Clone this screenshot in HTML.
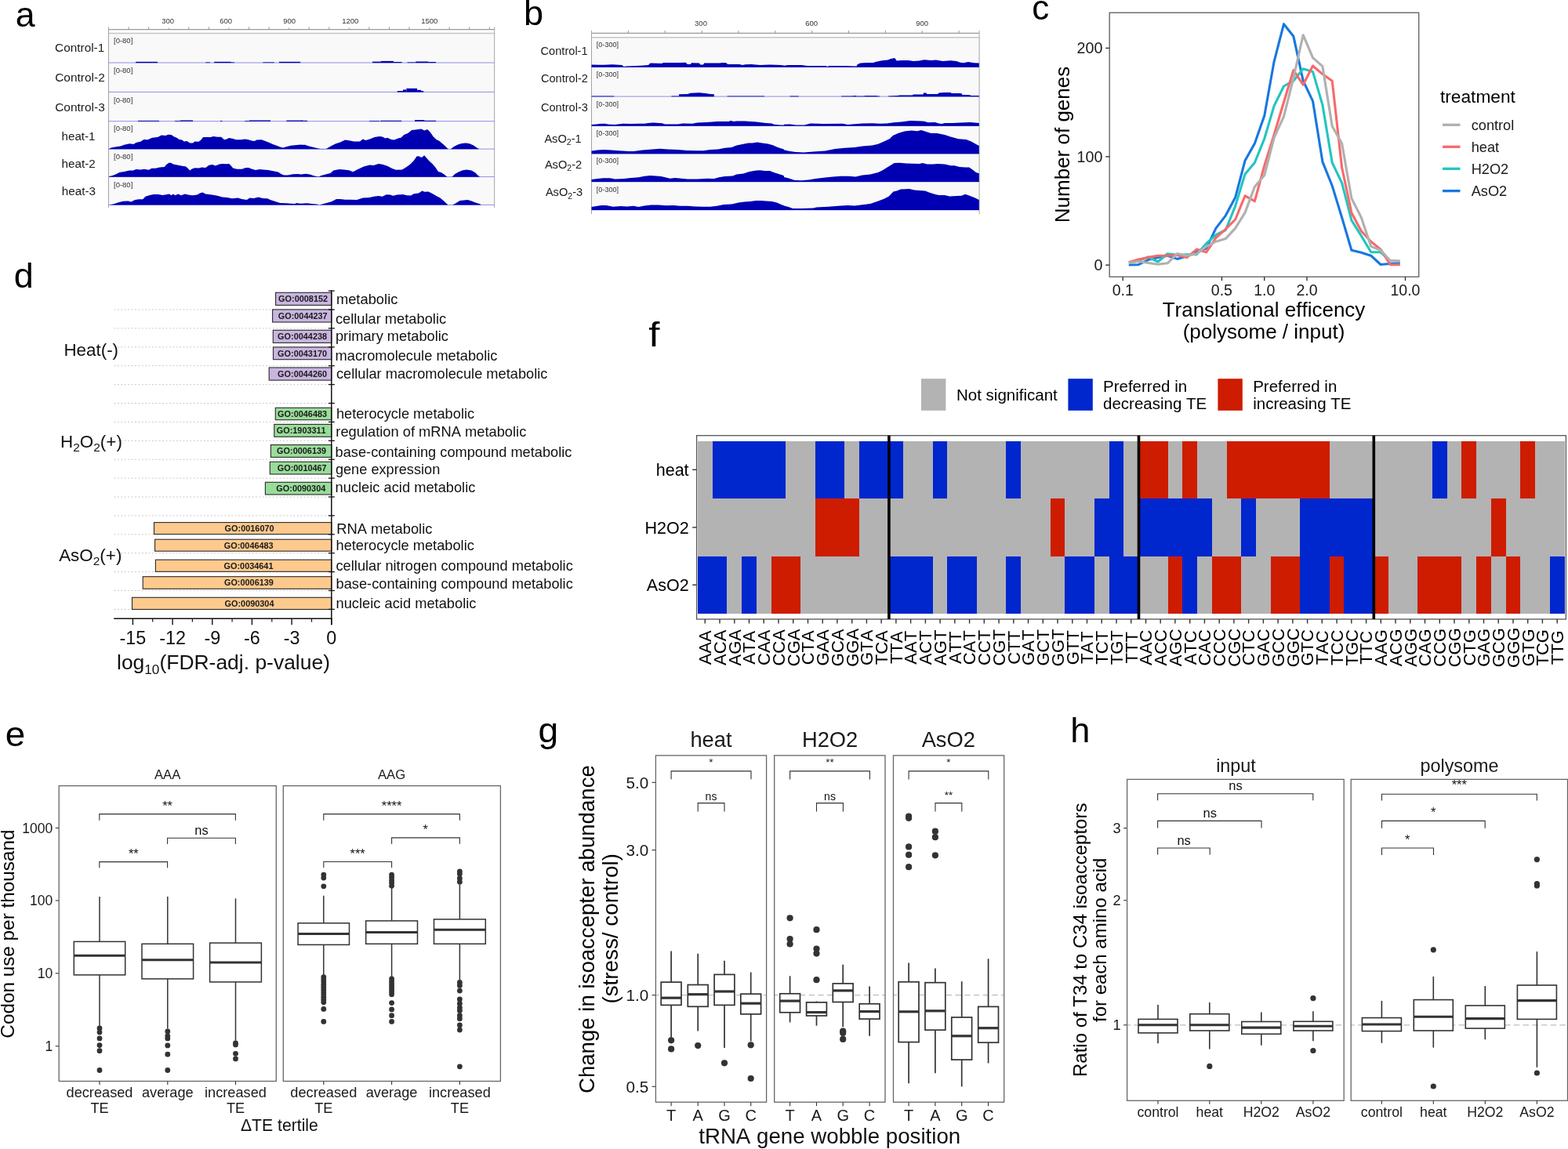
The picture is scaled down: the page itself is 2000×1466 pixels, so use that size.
<!DOCTYPE html>
<html lang="en">
<head>
<meta charset="utf-8">
<title>Figure</title>
<style>
html,body{margin:0;padding:0;background:#fff;}
body{width:2000px;height:1466px;overflow:hidden;}
svg{display:block;font-family:"Liberation Sans",sans-serif;font-kerning:none;}
</style>
</head>
<body>
<svg width="2000" height="1466" viewBox="0 0 2000 1466">
<rect x="0" y="0" width="2000" height="1466" fill="#ffffff"/>
<g id="panel-a">
<text transform="matrix(0.9930 0 0 0.9944 19.65 34.05)" font-size="45" fill="#000">a</text><rect x="138.5" y="42.6" width="492.2" height="218.8" fill="#f9f9f9" stroke="none" stroke-width="1" />
<line x1="138.5" y1="37.7" x2="630.7" y2="37.7" stroke="#999" stroke-width="1.2" />
<line x1="164.1" y1="34.3" x2="164.1" y2="37.7" stroke="#999" stroke-width="1" />
<line x1="189.6" y1="34.3" x2="189.6" y2="37.7" stroke="#999" stroke-width="1" />
<line x1="215.2" y1="35.5" x2="215.2" y2="37.7" stroke="#999" stroke-width="1" />
<line x1="240.8" y1="34.3" x2="240.8" y2="37.7" stroke="#999" stroke-width="1" />
<line x1="266.4" y1="34.3" x2="266.4" y2="37.7" stroke="#999" stroke-width="1" />
<line x1="291.9" y1="35.5" x2="291.9" y2="37.7" stroke="#999" stroke-width="1" />
<line x1="317.5" y1="34.3" x2="317.5" y2="37.7" stroke="#999" stroke-width="1" />
<line x1="343.1" y1="34.3" x2="343.1" y2="37.7" stroke="#999" stroke-width="1" />
<line x1="368.6" y1="35.5" x2="368.6" y2="37.7" stroke="#999" stroke-width="1" />
<line x1="394.2" y1="34.3" x2="394.2" y2="37.7" stroke="#999" stroke-width="1" />
<line x1="419.8" y1="34.3" x2="419.8" y2="37.7" stroke="#999" stroke-width="1" />
<line x1="445.3" y1="35.5" x2="445.3" y2="37.7" stroke="#999" stroke-width="1" />
<line x1="470.9" y1="34.3" x2="470.9" y2="37.7" stroke="#999" stroke-width="1" />
<line x1="496.5" y1="34.3" x2="496.5" y2="37.7" stroke="#999" stroke-width="1" />
<line x1="522" y1="34.3" x2="522" y2="37.7" stroke="#999" stroke-width="1" />
<line x1="547.6" y1="35.5" x2="547.6" y2="37.7" stroke="#999" stroke-width="1" />
<line x1="573.2" y1="34.3" x2="573.2" y2="37.7" stroke="#999" stroke-width="1" />
<line x1="598.8" y1="34.3" x2="598.8" y2="37.7" stroke="#999" stroke-width="1" />
<line x1="624.3" y1="34.3" x2="624.3" y2="37.7" stroke="#999" stroke-width="1" />
<text x="214.2" y="29.5" font-size="9.5" text-anchor="middle" fill="#333" >300</text>
<text x="288.2" y="29.5" font-size="9.5" text-anchor="middle" fill="#333" >600</text>
<text x="369.2" y="29.5" font-size="9.5" text-anchor="middle" fill="#333" >900</text>
<text x="446.8" y="29.5" font-size="9.5" text-anchor="middle" fill="#333" >1200</text>
<text x="547.7" y="29.5" font-size="9.5" text-anchor="middle" fill="#333" >1500</text>
<line x1="138.5" y1="42.6" x2="630.7" y2="42.6" stroke="#c6c6c6" stroke-width="1.5" />
<line x1="138.5" y1="34.3" x2="138.5" y2="265" stroke="#a4a4a4" stroke-width="1" />
<line x1="630.7" y1="34.3" x2="630.7" y2="265" stroke="#a4a4a4" stroke-width="1" />
<line x1="138.5" y1="80" x2="630.7" y2="80" stroke="#9090e4" stroke-width="1" />
<path d="M173.1,80.2L173.1,80L173.1,78.8L201,78.8L201,80L201,80.2Z" fill="#0000b2"/>
<path d="M262.2,80.2L262.2,80L262.2,79.4L267.9,79.4L267.9,80L267.9,80.2Z" fill="#0000b2"/>
<path d="M273.1,80.2L273.1,80L273.1,78.8L294.8,78.8L294.8,80L294.8,80.2Z" fill="#0000b2"/>
<path d="M294.8,80.2L294.8,80L294.8,79.4L299.1,79.4L299.1,80L299.1,80.2Z" fill="#0000b2"/>
<path d="M335.4,80.2L335.4,80L335.4,79.4L349.8,79.4L349.8,80L349.8,80.2Z" fill="#0000b2"/>
<path d="M356,80.2L356,80L356,78.8L383.2,78.8L383.2,80L383.2,80.2Z" fill="#0000b2"/>
<path d="M475,80.2L475,80L475,78.6L485.9,78.6L485.9,80L485.9,80.2Z" fill="#0000b2"/>
<path d="M485.9,80.2L485.9,80L485.9,77.9L502.1,77.9L502.1,80L502.1,80.2Z" fill="#0000b2"/>
<path d="M502.1,80.2L502.1,80L502.1,79L512.5,79L512.5,80L512.5,80.2Z" fill="#0000b2"/>
<path d="M519.6,80.2L519.6,80L519.6,79.4L529.6,79.4L529.6,80L529.6,80.2Z" fill="#0000b2"/>
<path d="M530,80.2L530,80L530,78.5L546.5,78.5L546.5,80L546.5,80.2Z" fill="#0000b2"/>
<path d="M546.5,80.2L546.5,80L546.5,79L555.9,79L555.9,80L555.9,80.2Z" fill="#0000b2"/>
<text x="145" y="54.8" font-size="9.5" text-anchor="start" fill="#333" >[0-80]</text>
<text x="101.7" y="66.4" font-size="15.3" text-anchor="middle" fill="#1a1a1a" textLength="63.2" lengthAdjust="spacingAndGlyphs">Control-1</text>
<line x1="138.5" y1="117.4" x2="630.7" y2="117.4" stroke="#9090e4" stroke-width="1" />
<path d="M506.8,117.6L506.8,117.2L506.8,116L514,116L514,117.2L514,117.6Z" fill="#0000b2"/>
<path d="M514,117.6L514,117.2L514,114.4L518.4,114.4L518.4,117.2L518.4,117.6Z" fill="#0000b2"/>
<path d="M518.4,117.6L518.4,117.2L518.4,112.8L532.1,112.8L532.1,117.2L532.1,117.6Z" fill="#0000b2"/>
<path d="M532.1,117.6L532.1,117.2L532.1,114.8L537.1,114.8L537.1,117.2L537.1,117.6Z" fill="#0000b2"/>
<path d="M537.1,117.6L537.1,117.2L537.1,116L540.2,116L540.2,117.2L540.2,117.6Z" fill="#0000b2"/>
<text x="145" y="92.9" font-size="9.5" text-anchor="start" fill="#333" >[0-80]</text>
<text x="102" y="103.7" font-size="15.3" text-anchor="middle" fill="#1a1a1a" textLength="63.6" lengthAdjust="spacingAndGlyphs">Control-2</text>
<line x1="138.5" y1="154.7" x2="630.7" y2="154.7" stroke="#9090e4" stroke-width="1" />
<path d="M176,154.9L176,154.8L176,153.9L202.9,153.9L202.9,154.8L202.9,154.9Z" fill="#0000b2"/>
<path d="M223.1,154.9L223.1,154.8L223.1,154.1L229.8,154.1L229.8,154.8L229.8,154.9Z" fill="#0000b2"/>
<path d="M229.8,154.9L229.8,154.8L229.8,153.5L246,153.5L246,154.8L246,154.9Z" fill="#0000b2"/>
<path d="M281,154.9L281,154.8L281,154L283.5,154L283.5,154.8L283.5,154.9Z" fill="#0000b2"/>
<path d="M312.2,154.9L312.2,154.8L312.2,154.1L317.9,154.1L317.9,154.8L317.9,154.9Z" fill="#0000b2"/>
<path d="M317.9,154.9L317.9,154.8L317.9,153.5L345,153.5L345,154.8L345,154.9Z" fill="#0000b2"/>
<path d="M365.4,154.9L365.4,154.8L365.4,153.6L386,153.6L386,154.8L386,154.9Z" fill="#0000b2"/>
<path d="M384,154.9L384,154.8L384,153.8L392.1,153.8L392.1,154.8L392.1,154.9Z" fill="#0000b2"/>
<path d="M471.1,154.9L471.1,154.8L471.1,154.1L484,154.1L484,154.8L484,154.9Z" fill="#0000b2"/>
<path d="M485.2,154.9L485.2,154.8L485.2,153.8L512.1,153.8L512.1,154.8L512.1,154.9Z" fill="#0000b2"/>
<path d="M529,154.9L529,154.8L529,153.1L541.5,153.1L541.5,154.8L541.5,154.9Z" fill="#0000b2"/>
<path d="M541.5,154.9L541.5,154.8L541.5,153.8L556.2,153.8L556.2,154.8L556.2,154.9Z" fill="#0000b2"/>
<text x="145" y="131" font-size="9.5" text-anchor="start" fill="#333" >[0-80]</text>
<text x="102" y="141.6" font-size="15.3" text-anchor="middle" fill="#1a1a1a" textLength="63.6" lengthAdjust="spacingAndGlyphs">Control-3</text>
<line x1="138.5" y1="190.1" x2="630.7" y2="190.1" stroke="#9090e4" stroke-width="1" />
<path d="M139.1,190.3L139.1,190.1L141.6,188.6L148.5,187.2L153.5,186.6L158.5,184.8L165.4,183.2L170.4,183.9L173.5,182L179.1,180.8L183.5,178L188.5,178.2L194.1,175.8L201,174.9L206,172.4L211,173L214.8,171.8L218.5,172L222.2,174.5L226,176.1L228.5,178L232.2,178.6L234.8,180.5L238.5,180.1L242.2,182.4L246,182.4L248.5,180.5L253.5,180.8L256.6,178.2L259.1,175.1L263.5,174.9L268.5,175.1L272.2,174.1L277.2,174.8L282.2,174.8L286,178.2L289.1,177.6L292.2,176.1L297.2,177L301,178.2L307.2,178.2L312.2,177.4L316,178L321,179.5L324.8,179.9L327.2,178.6L333.5,178.2L338.5,180.1L343.5,182L348.5,184.2L353.5,186L357.2,187.6L361,188.5L366,187L371,185.8L378.5,185.1L384,184.6L384,184.8L389,184.8L394,186.4L400.2,188L406.5,189.5L409,190.1L415.9,189.9L421.5,186.8L427.8,183.5L434,181.4L440.2,178.6L445.2,179.2L451.5,180.5L459,180.5L462.8,177.6L466.5,178.9L471.5,177.6L477.8,174.9L484,173.9L487.8,174.5L491.5,176.4L494,175.8L499,178L502.8,178.5L507.8,176.4L511.5,175.8L515.2,172L520.2,170.1L525.2,166L530.2,165.5L537.1,164.5L541.5,166.4L545.2,165.1L549,168.9L552.8,174.5L556.5,178L560.2,179.8L565.2,183.9L569,187.6L571.5,190.1L571.5,190.3Z" fill="#0000b2"/>
<path d="M575.2,190.3L575.2,190.1L579,187L584,184.5L589,182.9L594,182.4L599,183.2L604,185.5L607.8,188.2L610.9,190.1L610.9,190.3Z" fill="#0000b2"/>
<text x="145" y="167" font-size="9.5" text-anchor="start" fill="#333" >[0-80]</text>
<text x="100" y="179" font-size="15.3" text-anchor="middle" fill="#1a1a1a" textLength="42.8" lengthAdjust="spacingAndGlyphs">heat-1</text>
<line x1="138.5" y1="225.6" x2="630.7" y2="225.6" stroke="#9090e4" stroke-width="1" />
<path d="M139.1,225.8L139.1,225.1L143.5,223.9L148.5,222L152.2,220.1L158.5,218.9L164.8,217.4L169.8,217.6L173.5,216L179.8,216.4L183.5,215.8L189.8,216.8L193.5,214.8L198.5,214.8L203.5,213.5L209.8,213L212.2,210.1L216,207.6L218.5,208L221,209.5L226,210.5L232.2,211.8L237.2,212.6L239.8,215.1L242.2,217.6L244.8,215.5L248.5,214.2L253.5,214.5L257.2,213.6L262.2,213.9L266.6,210.8L271,210.1L274.8,211.4L279.8,209.5L283.5,208.9L288.5,209.2L292.2,208.9L294.8,211.4L297.2,214.5L302.2,215.8L308.5,215.8L313.5,213.9L317.2,214.1L321,215.4L326,217L331,216L336,216.4L342.2,217L348.5,218.2L354.8,219.5L358.5,222L362.2,223.5L367.2,223.5L373.5,222.2L379.8,222L384,222.5L384,222.6L390.2,221.8L395.2,222.6L400.2,224.2L406.5,225.5L409,224.2L415.2,222.4L421.5,221L425.2,217.6L432.8,216L439,216.4L445.2,217.2L450.2,219.2L456.5,216L464,212.4L471.5,210.4L476.5,211.1L482.8,208.9L487.8,209.8L494,211.8L500.2,215.1L505.2,216.8L512.8,216.4L517.8,213.6L522.8,210.1L527.8,205.1L531.5,199.5L534,199.2L537.8,201L541.2,198.2L544,201.4L547.8,205.8L551.5,208.9L555.2,213.2L559,218.9L562.8,220.1L566.5,222.6L570.2,225.5L570.2,225.8Z" fill="#0000b2"/>
<path d="M576.5,225.8L576.5,225.8L580.2,222L585.2,219.2L590.2,217.2L595.2,216.6L601.5,217.4L606.5,220.5L609,223.2L612.1,225.8L612.1,225.8Z" fill="#0000b2"/>
<text x="145" y="203.2" font-size="9.5" text-anchor="start" fill="#333" >[0-80]</text>
<text x="100.2" y="213.8" font-size="15.3" text-anchor="middle" fill="#1a1a1a" textLength="43.2" lengthAdjust="spacingAndGlyphs">heat-2</text>
<line x1="138.5" y1="261.4" x2="630.7" y2="261.4" stroke="#9090e4" stroke-width="1" />
<path d="M139.1,261.6L139.1,261.4L146,260.1L151,258.2L157.2,256.8L163.5,256.4L167.2,257.4L172.2,255.1L177.2,254.2L182.2,254.2L185.4,250.8L191,248.9L196,247.9L202.2,248L207.2,248.9L212.2,248.2L216,247.6L218.5,249.2L221,247.6L223.5,249.2L227.2,247.6L231,249.2L236,247.6L239.8,248.5L244.8,249.2L248.5,248.9L252.2,248.2L254.8,246.4L258.5,245.5L262.2,247.6L268.5,248.2L273.5,248.9L278.5,250.1L283.5,251.4L289.8,252L296,253.2L303.5,252.4L308.5,253.9L314.8,255.1L318.5,252.6L323.5,253L329.8,251.4L334.8,253L341,253.2L344.8,255.1L351,257L357.2,258.9L364.8,259.2L371,259.8L376,260.1L378.5,258.9L382.2,259.8L384,259.6L384,259.8L391.5,259.2L397.8,260.1L404,260.5L407.1,261.4L410.9,260.5L416.5,258.9L422.8,257.2L429,254.1L434,253.9L440.2,254.8L446.5,254.8L455.2,254.9L462.8,252.4L471.5,252L476.5,250.8L482.8,250.1L487.8,250.8L492.8,248.2L497.8,248.5L501.5,249.8L506.5,248.6L514,248L519,249.2L524,249.5L527.8,247.2L534,246.4L538.4,243.6L541.5,244.8L546.5,244.5L551.5,247L556.5,250.1L561.5,252.6L566.5,256.8L571.5,261.4L571.5,261.6Z" fill="#0000b2"/>
<path d="M577.1,261.6L577.1,261.4L581.5,259.2L586.5,256L591.5,255.5L596.5,255.1L601.5,256.4L606.5,258.5L612.8,260.5L613.4,261.4L613.4,261.6Z" fill="#0000b2"/>
<text x="145" y="238.8" font-size="9.5" text-anchor="start" fill="#333" >[0-80]</text>
<text x="100.4" y="248.6" font-size="15.3" text-anchor="middle" fill="#1a1a1a" textLength="43.2" lengthAdjust="spacingAndGlyphs">heat-3</text>
</g>
<g id="panel-b">
<text transform="matrix(1.0000 0 0 0.9911 668.08 32.30)" font-size="45" fill="#000">b</text><rect x="754.5" y="47.7" width="494.6" height="220.2" fill="#f9f9f9" stroke="none" stroke-width="1" />
<line x1="754.5" y1="42.3" x2="1249.1" y2="42.3" stroke="#999" stroke-width="1.2" />
<line x1="801.4" y1="38.9" x2="801.4" y2="42.3" stroke="#999" stroke-width="1" />
<line x1="848.2" y1="38.9" x2="848.2" y2="42.3" stroke="#999" stroke-width="1" />
<line x1="895.1" y1="38.9" x2="895.1" y2="42.3" stroke="#999" stroke-width="1" />
<line x1="941.9" y1="38.9" x2="941.9" y2="42.3" stroke="#999" stroke-width="1" />
<line x1="988.8" y1="38.9" x2="988.8" y2="42.3" stroke="#999" stroke-width="1" />
<line x1="1035.7" y1="38.9" x2="1035.7" y2="42.3" stroke="#999" stroke-width="1" />
<line x1="1082.5" y1="38.9" x2="1082.5" y2="42.3" stroke="#999" stroke-width="1" />
<line x1="1129.4" y1="38.9" x2="1129.4" y2="42.3" stroke="#999" stroke-width="1" />
<line x1="1176.2" y1="38.9" x2="1176.2" y2="42.3" stroke="#999" stroke-width="1" />
<line x1="1223.1" y1="38.9" x2="1223.1" y2="42.3" stroke="#999" stroke-width="1" />
<text x="894" y="33.2" font-size="9.5" text-anchor="middle" fill="#333" >300</text>
<text x="1035.2" y="33.2" font-size="9.5" text-anchor="middle" fill="#333" >600</text>
<text x="1176.2" y="33.2" font-size="9.5" text-anchor="middle" fill="#333" >900</text>
<line x1="754.5" y1="47.7" x2="1249.1" y2="47.7" stroke="#c6c6c6" stroke-width="1.5" />
<line x1="754.5" y1="38.9" x2="754.5" y2="273.2" stroke="#a4a4a4" stroke-width="1" />
<line x1="1249.1" y1="38.9" x2="1249.1" y2="273.2" stroke="#a4a4a4" stroke-width="1" />
<line x1="754.5" y1="85.6" x2="1249.1" y2="85.6" stroke="#9090e4" stroke-width="1" />
<path d="M754.5,85.8L754.5,82.5L770.8,82.8L780.8,82.2L793.2,83.1L795.8,85L798.2,84.4L817,83.8L827,83.1L829.5,80.6L844.5,80.9L845.8,80L867,80L874.5,79.8L877,81.9L880.8,81.9L882,80.2L892,80.6L893.2,82.5L897,82.5L898.2,80.6L918.2,80.6L920.8,80L926.4,80.2L928.2,81.9L943.2,81.9L947,83.1L950.8,82.2L958.2,81.9L969.5,83.1L982,82.5L995.8,83.1L1000,83.6L1000,83.8L1005,83.1L1022.5,83.1L1030,84L1053.8,84L1055,85L1057.5,84.1L1077.5,84.1L1092.5,84.4L1093.8,81.9L1097.5,80.6L1106.2,80L1113.8,80L1117.5,78.8L1125,77.2L1132.5,76.5L1136.2,75L1141.2,74.1L1143.8,77.5L1150,77.1L1158.8,76.9L1165,77.9L1172.5,77.5L1178.8,76.2L1187.5,76.9L1193.8,76.5L1202.5,78.1L1212.5,77.2L1220,77.9L1225,79.8L1228.8,80.2L1235,79.1L1242.5,80.2L1248.8,80.6L1248.8,85.8Z" fill="#0000b2"/>
<text x="760.8" y="60" font-size="9.1" text-anchor="start" fill="#333" >[0-300]</text>
<text x="719.6" y="69.6" font-size="14.6" text-anchor="middle" fill="#1a1a1a" >Control-1</text>
<line x1="754.5" y1="123.1" x2="1249.1" y2="123.1" stroke="#9090e4" stroke-width="1" />
<path d="M754.5,123.3L754.5,123.1L754.5,122.5L783.2,122.5L783.2,123.1L783.2,123.3Z" fill="#0000b2"/>
<path d="M856.4,123.3L856.4,123.1L856.4,122.5L866,122.5L866,123.1L866,123.3Z" fill="#0000b2"/>
<path d="M927.6,123.3L927.6,123.1L927.6,122.5L975.1,122.5L975.1,123.1L975.1,123.3Z" fill="#0000b2"/>
<path d="M866,123.3L866,123.1L866,120.2L877,120L880.8,118.8L892,118.2L899.5,119.1L905.8,120L910.8,120.2L911,123.1L911,123.3Z" fill="#0000b2"/>
<path d="M1007.5,123.3L1007.5,123.1L1007.5,122.5L1018.8,122.5L1018.8,123.1L1018.8,123.3Z" fill="#0000b2"/>
<path d="M1073.1,123.3L1073.1,123.1L1073.1,122.5L1087.5,122.5L1087.5,123.1L1087.5,123.3Z" fill="#0000b2"/>
<path d="M1087.5,123.3L1087.5,123.1L1087.5,122.1L1092.5,122.1L1092.5,123.1L1092.5,123.3Z" fill="#0000b2"/>
<path d="M1092.5,123.3L1092.5,123.1L1092.5,122.6L1102.5,122.6L1102.5,123.1L1102.5,123.3Z" fill="#0000b2"/>
<path d="M1102.5,123.3L1102.5,123.1L1102.5,122.1L1118.8,122.1L1118.8,123.1L1118.8,123.3Z" fill="#0000b2"/>
<path d="M1118.8,123.3L1118.8,123.1L1118.8,122.5L1121.9,122.5L1121.9,123.1L1121.9,123.3Z" fill="#0000b2"/>
<path d="M1133.1,123.3L1133.1,122.5L1145,122.1L1147.5,121.5L1163.8,121.5L1165,120.6L1177.5,120.6L1178.1,118.5L1181.2,118.5L1182.5,120L1196.2,120L1197.5,118.5L1203.8,118.1L1212.5,117.9L1213.8,119L1226.2,119L1227.5,121L1237.5,121.2L1238.1,122.1L1248.8,122.1L1248.8,123.3Z" fill="#0000b2"/>
<text x="760.8" y="98.1" font-size="9.1" text-anchor="start" fill="#333" >[0-300]</text>
<text x="719.9" y="105.2" font-size="14.6" text-anchor="middle" fill="#1a1a1a" >Control-2</text>
<line x1="754.5" y1="160.6" x2="1249.1" y2="160.6" stroke="#9090e4" stroke-width="1" />
<path d="M754.5,160.8L754.5,159L764.5,158.1L770.8,157.8L777,158.8L784.5,159L794.5,157.8L804.5,158.1L814.5,157.8L822,157.8L827,156.9L833.2,156.6L844.5,157.2L848.2,158.5L864.5,158.5L870.8,157.5L883.2,157.8L889.5,156.6L902,156L914.5,155L929.5,155L932,154.1L935.8,155L939.5,154.4L949.5,154.4L964.5,155.6L977,156.9L984.5,157.5L987,158.8L995.8,159.4L1000,159.6L1000,158.8L1007.5,158.5L1015,159.4L1026.2,159.4L1033.8,157.5L1042.5,157.8L1050,158.1L1075,157.8L1081.2,159L1087.5,158.5L1100,157.5L1112.5,157.2L1122.5,157.8L1131.2,157.5L1140,156.2L1150,155.6L1161.2,154.1L1175,154.4L1178.8,154.8L1183.8,156.2L1192.5,156L1197.5,157.5L1201.2,158.1L1205,157.1L1215,156.9L1225,156.5L1237.5,156L1248.8,156.9L1248.8,160.8Z" fill="#0000b2"/>
<text x="760.8" y="135.6" font-size="9.1" text-anchor="start" fill="#333" >[0-300]</text>
<text x="719.9" y="142.4" font-size="14.6" text-anchor="middle" fill="#1a1a1a" >Control-3</text>
<line x1="754.5" y1="196" x2="1249.1" y2="196" stroke="#9090e4" stroke-width="1" />
<path d="M754.5,196.2L754.5,192.5L762,191.5L770.8,191L779.5,191.5L789.5,192.2L802,193.1L808.2,192.9L819.5,191.6L832,190.4L842,189.8L852,190.6L864.5,191L877,191.9L889.5,192.2L897,192.2L905.8,191L915.8,190.6L924.5,188.8L933.2,188.1L939.5,185.4L947,184L954.5,182.5L959.5,182.5L965.8,181.5L972,182.5L979.5,183.5L985.8,185.2L992,188.1L998.2,190L1000,190.6L1000,191.2L1006.2,192.8L1015,194L1025,194.4L1037.5,193.5L1052.5,192.5L1065,190L1077.5,188.8L1090,188.1L1100,186.5L1112.5,185.4L1120,183.8L1127.5,180.6L1135,176.9L1138.8,173.1L1146.2,169.8L1153.8,167.5L1162.5,166.5L1170,167.2L1175,166L1181.2,168.1L1187.5,170L1195,170L1205,171.9L1212.5,174.4L1222.5,177.2L1232.5,177.9L1238.8,180.6L1245,184L1248.8,186L1248.8,196.2Z" fill="#0000b2"/>
<text x="760.8" y="173.2" font-size="9.1" text-anchor="start" fill="#333" >[0-300]</text>
<text x="718" y="181.5" font-size="14.6" text-anchor="middle" fill="#1a1a1a" >AsO<tspan font-size="10.5" dy="3.4">2</tspan><tspan dy="-3.4">-1</tspan></text>
<line x1="754.5" y1="231.9" x2="1249.1" y2="231.9" stroke="#9090e4" stroke-width="1" />
<path d="M754.5,232.1L754.5,229L762,228.1L769.5,227.2L778.2,227.2L784.5,228.5L795.8,227.9L804.5,226.9L814.5,226.2L822,224.8L829.5,224.1L837,224.4L843.2,225L849.5,226.5L854.5,227.8L860.8,227.1L867,227.5L877,228.5L889.5,228.4L902,227.8L910.8,227.9L917,226.2L924.5,225L934.5,224.4L939.5,222.5L948.2,221.5L955.8,219L964.5,217.5L969.5,217.2L975.8,218.1L982,218.1L987,220L993.2,221.9L998.2,223.5L1000,224.5L1000,226L1006.2,227.5L1013.8,230L1022.5,230.2L1031.2,229.6L1040,228.1L1052.5,226.6L1062.5,225.6L1072.5,224.8L1082.5,224.8L1091.2,225.6L1100,223.5L1110,222.5L1120,220L1126.2,216.9L1132.5,213.1L1140.6,207.9L1147.5,207.8L1156.2,208.4L1165,208.8L1172.5,209L1176.9,208.1L1182.5,209.6L1190,209.6L1196.2,209.1L1205,209.4L1212.5,211.2L1217.5,211.2L1223.8,213.1L1231.2,213.5L1236.2,213.5L1241.2,216.9L1245,220L1248.8,221.2L1248.8,232.1Z" fill="#0000b2"/>
<text x="760.8" y="208.2" font-size="9.1" text-anchor="start" fill="#333" >[0-300]</text>
<text x="718.5" y="214.8" font-size="14.6" text-anchor="middle" fill="#1a1a1a" >AsO<tspan font-size="10.5" dy="3.4">2</tspan><tspan dy="-3.4">-2</tspan></text>
<line x1="754.5" y1="267.9" x2="1249.1" y2="267.9" stroke="#9090e4" stroke-width="1" />
<path d="M754.5,268.1L754.5,264L760.8,263.1L767,261.9L773.2,261.9L777,262.8L782,263.8L792,263.1L799.5,263.5L808.2,262.8L814.5,264L822,262.5L830.8,261.5L839.5,261.6L849.5,262.2L859.5,262.1L867,262.8L877,262.8L887,263.5L897,263.8L905.8,263.8L914.5,262.8L923.2,260.9L933.2,260.4L942,258.5L949.5,257.5L957,256.9L964.5,255.9L970.8,256L977,256.5L984.5,256.9L990.8,258.5L997,261.2L1000,262.2L1000,262.5L1005,263.8L1011.2,266L1022.5,266L1037.5,265.6L1041.2,264.4L1056.2,263.8L1068.8,262.8L1081.2,262.1L1090,262.5L1100,261.2L1110,260L1118.8,256.9L1127.5,253.8L1133.8,250.6L1139.4,244.4L1143.8,243.4L1148.8,241.5L1160,240.9L1166.2,242.5L1172.5,243.1L1180,243.5L1185,245.6L1191.2,247.5L1197.5,249L1205,249L1211.2,250.6L1220,250L1226.2,249.8L1231.2,247.8L1237.5,250L1243.8,252.5L1248.8,255L1248.8,268.1Z" fill="#0000b2"/>
<text x="760.8" y="244.7" font-size="9.1" text-anchor="start" fill="#333" >[0-300]</text>
<text x="719.5" y="250.3" font-size="14.6" text-anchor="middle" fill="#1a1a1a" >AsO<tspan font-size="10.5" dy="3.4">2</tspan><tspan dy="-3.4">-3</tspan></text>
</g>
<g id="panel-c">
<text transform="matrix(0.9767 0 0 0.9741 1316.18 24.81)" font-size="45" fill="#000">c</text>
<path d="M1439.8,338L1452.1,337.7L1464.5,331.6L1476.9,328.6L1489.2,326.2L1501.6,330.4L1513.9,326.7L1526.3,321.8L1538.6,316.8L1551,291.1L1563.3,275.1L1575.7,251.8L1588,205.1L1600.4,183L1612.8,147.4L1625.1,78.6L1637.5,30.7L1649.8,46.2L1662.2,103.2L1674.5,128.9L1686.9,206.3L1699.2,237L1711.6,277.5L1723.9,319.3L1736.3,322.2L1748.7,326.2L1761,337.5L1773.4,336.5L1785.7,336.5" fill="none" stroke="#1877e0" stroke-width="3.1" stroke-linejoin="round"/>
<path d="M1439.8,335.5L1452.1,332.8L1464.5,327.9L1476.9,334L1489.2,323.7L1501.6,325.4L1513.9,324.7L1526.3,324.7L1538.6,310.7L1551,299.7L1563.3,293.5L1575.7,262.8L1588,222.3L1600.4,207.5L1612.8,176.8L1625.1,135.1L1637.5,110L1649.8,103.2L1662.2,87.7L1674.5,91.4L1686.9,133.9L1699.2,207.5L1711.6,233.3L1723.9,281.2L1736.3,300.9L1748.7,321.8L1761,321.8L1773.4,332.8L1785.7,333.5" fill="none" stroke="#22c5c0" stroke-width="3.1" stroke-linejoin="round"/>
<path d="M1439.8,334.8L1452.1,331.1L1464.5,328.4L1476.9,326.2L1489.2,326.2L1501.6,325.4L1513.9,328.6L1526.3,318.1L1538.6,321.8L1551,303.3L1563.3,292.3L1575.7,280L1588,249.8L1600.4,256.7L1612.8,211.2L1625.1,171.9L1637.5,130.2L1649.8,89.6L1662.2,108.1L1674.5,84L1686.9,94.6L1699.2,103.2L1711.6,213.7L1723.9,271.4L1736.3,294.7L1748.7,308.2L1761,318.1L1773.4,337.7L1785.7,337.7" fill="none" stroke="#f8696b" stroke-width="3.1" stroke-linejoin="round"/>
<path d="M1439.8,335.5L1452.1,333.5L1464.5,335.5L1476.9,337.2L1489.2,335.8L1501.6,323.5L1513.9,326.2L1526.3,323.7L1538.6,314.4L1551,308.2L1563.3,304.6L1575.7,291.1L1588,271.4L1600.4,238.2L1612.8,223.5L1625.1,175.6L1637.5,148.6L1649.8,99.5L1662.2,44.7L1674.5,73.7L1686.9,84.7L1699.2,160.9L1711.6,183L1723.9,253L1736.3,277.5L1748.7,314.4L1761,319.3L1773.4,332.8L1785.7,332.8" fill="none" stroke="#b0b0b0" stroke-width="3.1" stroke-linejoin="round"/>
<rect x="1415.2" y="16.2" width="394.5" height="337" fill="none" stroke="#666" stroke-width="1.4" />
<line x1="1410.2" y1="61.4" x2="1415.2" y2="61.4" stroke="#333" stroke-width="1.4" />
<text x="1406.4" y="68.4" font-size="19.7" text-anchor="end" fill="#1a1a1a" >200</text>
<line x1="1410.2" y1="199.9" x2="1415.2" y2="199.9" stroke="#333" stroke-width="1.4" />
<text x="1406.4" y="206.9" font-size="19.7" text-anchor="end" fill="#1a1a1a" >100</text>
<line x1="1410.2" y1="338.2" x2="1415.2" y2="338.2" stroke="#333" stroke-width="1.4" />
<text x="1406.4" y="345.2" font-size="19.7" text-anchor="end" fill="#1a1a1a" >0</text>
<line x1="1432.2" y1="353.2" x2="1432.2" y2="358.2" stroke="#333" stroke-width="1.4" />
<text x="1432.2" y="376.5" font-size="19.5" text-anchor="middle" fill="#1a1a1a" >0.1</text>
<line x1="1558.4" y1="353.2" x2="1558.4" y2="358.2" stroke="#333" stroke-width="1.4" />
<text x="1558.4" y="376.5" font-size="19.5" text-anchor="middle" fill="#1a1a1a" >0.5</text>
<line x1="1612.7" y1="353.2" x2="1612.7" y2="358.2" stroke="#333" stroke-width="1.4" />
<text x="1612.7" y="376.5" font-size="19.5" text-anchor="middle" fill="#1a1a1a" >1.0</text>
<line x1="1667" y1="353.2" x2="1667" y2="358.2" stroke="#333" stroke-width="1.4" />
<text x="1667" y="376.5" font-size="19.5" text-anchor="middle" fill="#1a1a1a" >2.0</text>
<line x1="1792.5" y1="353.2" x2="1792.5" y2="358.2" stroke="#333" stroke-width="1.4" />
<text x="1792.5" y="376.5" font-size="19.5" text-anchor="middle" fill="#1a1a1a" >10.0</text>
<text transform="translate(1364,184.5) rotate(-90)" font-size="26" text-anchor="middle" fill="#000" >Number of genes</text>
<text x="1612" y="404" font-size="26" text-anchor="middle" fill="#000" >Translational efficency</text>
<text x="1612" y="432" font-size="26" text-anchor="middle" fill="#000" >(polysome / input)</text>
<text x="1837" y="131.1" font-size="22.7" text-anchor="start" fill="#000" >treatment</text>
<line x1="1840" y1="159.3" x2="1862.5" y2="159.3" stroke="#b0b0b0" stroke-width="3.3" />
<text x="1876.7" y="165.7" font-size="18.2" text-anchor="start" fill="#1a1a1a" >control</text>
<line x1="1840" y1="187.3" x2="1862.5" y2="187.3" stroke="#f8696b" stroke-width="3.3" />
<text x="1876.7" y="193.7" font-size="18.2" text-anchor="start" fill="#1a1a1a" >heat</text>
<line x1="1840" y1="215.3" x2="1862.5" y2="215.3" stroke="#22c5c0" stroke-width="3.3" />
<text x="1876.7" y="221.7" font-size="18.2" text-anchor="start" fill="#1a1a1a" >H2O2</text>
<line x1="1840" y1="243.6" x2="1862.5" y2="243.6" stroke="#1877e0" stroke-width="3.3" />
<text x="1876.7" y="250" font-size="18.2" text-anchor="start" fill="#1a1a1a" >AsO2</text>
</g>
<g id="panel-d">
<text transform="matrix(1.0000 0 0 0.9826 17.84 367.31)" font-size="45" fill="#000">d</text>
<line x1="145.5" y1="395" x2="422.8" y2="395" stroke="#c8c8c8" stroke-width="1" stroke-dasharray="2 2.4"/>
<line x1="145.5" y1="418.9" x2="422.8" y2="418.9" stroke="#c8c8c8" stroke-width="1" stroke-dasharray="2 2.4"/>
<line x1="145.5" y1="442.8" x2="422.8" y2="442.8" stroke="#c8c8c8" stroke-width="1" stroke-dasharray="2 2.4"/>
<line x1="145.5" y1="466.7" x2="422.8" y2="466.7" stroke="#c8c8c8" stroke-width="1" stroke-dasharray="2 2.4"/>
<line x1="145.5" y1="490.6" x2="422.8" y2="490.6" stroke="#c8c8c8" stroke-width="1" stroke-dasharray="2 2.4"/>
<line x1="145.5" y1="514.5" x2="422.8" y2="514.5" stroke="#c8c8c8" stroke-width="1" stroke-dasharray="2 2.4"/>
<line x1="145.5" y1="538.4" x2="422.8" y2="538.4" stroke="#c8c8c8" stroke-width="1" stroke-dasharray="2 2.4"/>
<line x1="145.5" y1="562.3" x2="422.8" y2="562.3" stroke="#c8c8c8" stroke-width="1" stroke-dasharray="2 2.4"/>
<line x1="145.5" y1="586.2" x2="422.8" y2="586.2" stroke="#c8c8c8" stroke-width="1" stroke-dasharray="2 2.4"/>
<line x1="145.5" y1="610.1" x2="422.8" y2="610.1" stroke="#c8c8c8" stroke-width="1" stroke-dasharray="2 2.4"/>
<line x1="145.5" y1="634" x2="422.8" y2="634" stroke="#c8c8c8" stroke-width="1" stroke-dasharray="2 2.4"/>
<line x1="145.5" y1="657.9" x2="422.8" y2="657.9" stroke="#c8c8c8" stroke-width="1" stroke-dasharray="2 2.4"/>
<line x1="145.5" y1="681.8" x2="422.8" y2="681.8" stroke="#c8c8c8" stroke-width="1" stroke-dasharray="2 2.4"/>
<line x1="145.5" y1="705.7" x2="422.8" y2="705.7" stroke="#c8c8c8" stroke-width="1" stroke-dasharray="2 2.4"/>
<line x1="145.5" y1="729.6" x2="422.8" y2="729.6" stroke="#c8c8c8" stroke-width="1" stroke-dasharray="2 2.4"/>
<line x1="145.5" y1="753.5" x2="422.8" y2="753.5" stroke="#c8c8c8" stroke-width="1" stroke-dasharray="2 2.4"/>
<line x1="145.5" y1="777.4" x2="422.8" y2="777.4" stroke="#c8c8c8" stroke-width="1" stroke-dasharray="2 2.4"/>
<rect x="351.6" y="373.3" width="71.2" height="16.1" fill="#c9b5e0" stroke="#2a2a2a" stroke-width="1.1" />
<text x="386.6" y="385.2" font-size="10.9" text-anchor="middle" fill="#1a1a1a" font-weight="bold" >GO:0008152</text>
<text x="428.9" y="388.1" font-size="18.2" text-anchor="start" fill="#111" textLength="78.5" lengthAdjust="spacingAndGlyphs">metabolic</text>
<rect x="347.6" y="394.9" width="75.2" height="16.1" fill="#c9b5e0" stroke="#2a2a2a" stroke-width="1.1" />
<text x="386.2" y="406.8" font-size="10.9" text-anchor="middle" fill="#1a1a1a" font-weight="bold" >GO:0044237</text>
<text x="427.9" y="412.5" font-size="18.2" text-anchor="start" fill="#111" textLength="141.2" lengthAdjust="spacingAndGlyphs">cellular metabolic</text>
<rect x="348.3" y="421.3" width="74.5" height="16.1" fill="#c9b5e0" stroke="#2a2a2a" stroke-width="1.1" />
<text x="385.6" y="433.2" font-size="10.9" text-anchor="middle" fill="#1a1a1a" font-weight="bold" >GO:0044238</text>
<text x="427.9" y="435.4" font-size="18.2" text-anchor="start" fill="#111" textLength="144.1" lengthAdjust="spacingAndGlyphs">primary metabolic</text>
<rect x="348.5" y="442.9" width="74.3" height="15.8" fill="#c9b5e0" stroke="#2a2a2a" stroke-width="1.1" />
<text x="385.6" y="454.7" font-size="10.9" text-anchor="middle" fill="#1a1a1a" font-weight="bold" >GO:0043170</text>
<text x="427.6" y="459.7" font-size="18.2" text-anchor="start" fill="#111" textLength="206.9" lengthAdjust="spacingAndGlyphs">macromolecule metabolic</text>
<rect x="343.2" y="469" width="79.6" height="16.1" fill="#c9b5e0" stroke="#2a2a2a" stroke-width="1.1" />
<text x="385.6" y="480.9" font-size="10.9" text-anchor="middle" fill="#1a1a1a" font-weight="bold" >GO:0044260</text>
<text x="428.9" y="483.2" font-size="18.2" text-anchor="start" fill="#111" textLength="269.5" lengthAdjust="spacingAndGlyphs">cellular macromolecule metabolic</text>
<rect x="351.3" y="520.3" width="71.5" height="15.4" fill="#99dc99" stroke="#2a2a2a" stroke-width="1.1" />
<text x="385.6" y="531.9" font-size="10.9" text-anchor="middle" fill="#1a1a1a" font-weight="bold" >GO:0046483</text>
<text x="428.9" y="533.8" font-size="18.2" text-anchor="start" fill="#111" textLength="176.2" lengthAdjust="spacingAndGlyphs">heterocycle metabolic</text>
<rect x="349.8" y="541.4" width="73" height="15.9" fill="#99dc99" stroke="#2a2a2a" stroke-width="1.1" />
<text x="384.2" y="553.2" font-size="10.9" text-anchor="middle" fill="#1a1a1a" font-weight="bold" >GO:1903311</text>
<text x="428.3" y="557.1" font-size="18.2" text-anchor="start" fill="#111" textLength="243" lengthAdjust="spacingAndGlyphs">regulation of mRNA metabolic</text>
<rect x="345.4" y="567.6" width="77.4" height="15.8" fill="#99dc99" stroke="#2a2a2a" stroke-width="1.1" />
<text x="384.6" y="579.4" font-size="10.9" text-anchor="middle" fill="#1a1a1a" font-weight="bold" >GO:0006139</text>
<text x="427.6" y="582.5" font-size="18.2" text-anchor="start" fill="#111" textLength="301.8" lengthAdjust="spacingAndGlyphs">base-containing compound metabolic</text>
<rect x="344.3" y="589.2" width="78.5" height="15.8" fill="#99dc99" stroke="#2a2a2a" stroke-width="1.1" />
<text x="385.2" y="601" font-size="10.9" text-anchor="middle" fill="#1a1a1a" font-weight="bold" >GO:0010467</text>
<text x="427.9" y="604.5" font-size="18.2" text-anchor="start" fill="#111" textLength="133.4" lengthAdjust="spacingAndGlyphs">gene expression</text>
<rect x="338.4" y="615.3" width="84.4" height="15.7" fill="#99dc99" stroke="#2a2a2a" stroke-width="1.1" />
<text x="383.8" y="627" font-size="10.9" text-anchor="middle" fill="#1a1a1a" font-weight="bold" >GO:0090304</text>
<text x="427.6" y="628.3" font-size="18.2" text-anchor="start" fill="#111" textLength="178.8" lengthAdjust="spacingAndGlyphs">nucleic acid metabolic</text>
<rect x="196.5" y="666.6" width="226.3" height="15" fill="#fdc98d" stroke="#2a2a2a" stroke-width="1.1" />
<text x="318.1" y="678" font-size="10.9" text-anchor="middle" fill="#1a1a1a" font-weight="bold" >GO:0016070</text>
<text x="429.2" y="680.7" font-size="18.2" text-anchor="start" fill="#111" textLength="122.2" lengthAdjust="spacingAndGlyphs">RNA metabolic</text>
<rect x="197.6" y="688.2" width="225.2" height="15" fill="#fdc98d" stroke="#2a2a2a" stroke-width="1.1" />
<text x="317.2" y="699.6" font-size="10.9" text-anchor="middle" fill="#1a1a1a" font-weight="bold" >GO:0046483</text>
<text x="428.5" y="702.4" font-size="18.2" text-anchor="start" fill="#111" textLength="176.3" lengthAdjust="spacingAndGlyphs">heterocycle metabolic</text>
<rect x="198.4" y="714.2" width="224.4" height="15.1" fill="#fdc98d" stroke="#2a2a2a" stroke-width="1.1" />
<text x="317" y="725.6" font-size="10.9" text-anchor="middle" fill="#1a1a1a" font-weight="bold" >GO:0034641</text>
<text x="428.5" y="728.4" font-size="18.2" text-anchor="start" fill="#111" textLength="302.3" lengthAdjust="spacingAndGlyphs">cellular nitrogen compound metabolic</text>
<rect x="182.2" y="735.7" width="240.6" height="15.6" fill="#fdc98d" stroke="#2a2a2a" stroke-width="1.1" />
<text x="317.4" y="747.4" font-size="10.9" text-anchor="middle" fill="#1a1a1a" font-weight="bold" >GO:0006139</text>
<text x="428.5" y="751.4" font-size="18.2" text-anchor="start" fill="#111" textLength="302.3" lengthAdjust="spacingAndGlyphs">base-containing compound metabolic</text>
<rect x="168.5" y="762.3" width="254.3" height="15.2" fill="#fdc98d" stroke="#2a2a2a" stroke-width="1.1" />
<text x="318" y="773.8" font-size="10.9" text-anchor="middle" fill="#1a1a1a" font-weight="bold" >GO:0090304</text>
<text x="428.5" y="775.7" font-size="18.2" text-anchor="start" fill="#111" textLength="179" lengthAdjust="spacingAndGlyphs">nucleic acid metabolic</text>
<line x1="422.8" y1="370.3" x2="422.8" y2="797.3" stroke="#111" stroke-width="1.5" />
<line x1="419" y1="371.1" x2="426.8" y2="371.1" stroke="#111" stroke-width="1.3" />
<line x1="419" y1="395" x2="426.8" y2="395" stroke="#111" stroke-width="1.3" />
<line x1="419" y1="418.9" x2="426.8" y2="418.9" stroke="#111" stroke-width="1.3" />
<line x1="419" y1="442.8" x2="426.8" y2="442.8" stroke="#111" stroke-width="1.3" />
<line x1="419" y1="466.7" x2="426.8" y2="466.7" stroke="#111" stroke-width="1.3" />
<line x1="419" y1="490.6" x2="426.8" y2="490.6" stroke="#111" stroke-width="1.3" />
<line x1="419" y1="514.5" x2="426.8" y2="514.5" stroke="#111" stroke-width="1.3" />
<line x1="419" y1="538.4" x2="426.8" y2="538.4" stroke="#111" stroke-width="1.3" />
<line x1="419" y1="562.3" x2="426.8" y2="562.3" stroke="#111" stroke-width="1.3" />
<line x1="419" y1="586.2" x2="426.8" y2="586.2" stroke="#111" stroke-width="1.3" />
<line x1="419" y1="610.1" x2="426.8" y2="610.1" stroke="#111" stroke-width="1.3" />
<line x1="419" y1="634" x2="426.8" y2="634" stroke="#111" stroke-width="1.3" />
<line x1="419" y1="657.9" x2="426.8" y2="657.9" stroke="#111" stroke-width="1.3" />
<line x1="419" y1="681.8" x2="426.8" y2="681.8" stroke="#111" stroke-width="1.3" />
<line x1="419" y1="705.7" x2="426.8" y2="705.7" stroke="#111" stroke-width="1.3" />
<line x1="419" y1="729.6" x2="426.8" y2="729.6" stroke="#111" stroke-width="1.3" />
<line x1="419" y1="753.5" x2="426.8" y2="753.5" stroke="#111" stroke-width="1.3" />
<line x1="419" y1="777.4" x2="426.8" y2="777.4" stroke="#111" stroke-width="1.3" />
<line x1="145.2" y1="789.3" x2="423.5" y2="789.3" stroke="#111" stroke-width="1.5" />
<line x1="169.4" y1="789.3" x2="169.4" y2="797.3" stroke="#111" stroke-width="1.4" />
<text x="169.4" y="822.4" font-size="23.4" text-anchor="middle" fill="#111" >-15</text>
<line x1="194.7" y1="789.3" x2="194.7" y2="793.6" stroke="#111" stroke-width="1.2" />
<line x1="220.1" y1="789.3" x2="220.1" y2="797.3" stroke="#111" stroke-width="1.4" />
<text x="220.1" y="822.4" font-size="23.4" text-anchor="middle" fill="#111" >-12</text>
<line x1="245.4" y1="789.3" x2="245.4" y2="793.6" stroke="#111" stroke-width="1.2" />
<line x1="270.8" y1="789.3" x2="270.8" y2="797.3" stroke="#111" stroke-width="1.4" />
<text x="270.8" y="822.4" font-size="23.4" text-anchor="middle" fill="#111" >-9</text>
<line x1="296.1" y1="789.3" x2="296.1" y2="793.6" stroke="#111" stroke-width="1.2" />
<line x1="321.4" y1="789.3" x2="321.4" y2="797.3" stroke="#111" stroke-width="1.4" />
<text x="321.4" y="822.4" font-size="23.4" text-anchor="middle" fill="#111" >-6</text>
<line x1="346.8" y1="789.3" x2="346.8" y2="793.6" stroke="#111" stroke-width="1.2" />
<line x1="372.1" y1="789.3" x2="372.1" y2="797.3" stroke="#111" stroke-width="1.4" />
<text x="372.1" y="822.4" font-size="23.4" text-anchor="middle" fill="#111" >-3</text>
<line x1="397.5" y1="789.3" x2="397.5" y2="793.6" stroke="#111" stroke-width="1.2" />
<line x1="422.8" y1="789.3" x2="422.8" y2="797.3" stroke="#111" stroke-width="1.4" />
<text x="422.8" y="822.4" font-size="23.4" text-anchor="middle" fill="#111" >0</text>
<text x="149" y="853.6" font-size="25.4" text-anchor="start" fill="#111" textLength="272" lengthAdjust="spacingAndGlyphs">log<tspan font-size="16.5" dy="6">10</tspan><tspan dy="-6">(FDR-adj. p-value)</tspan></text>
<text x="81.4" y="454.3" font-size="22.4" text-anchor="start" fill="#111" >Heat(-)</text>
<text x="77" y="570.6" font-size="22.4" text-anchor="start" fill="#111" >H<tspan font-size="15.5" dy="5.5">2</tspan><tspan dy="-5.5">O</tspan><tspan font-size="15.5" dy="5.5">2</tspan><tspan dy="-5.5">(+)</tspan></text>
<text x="75.2" y="715.8" font-size="22.4" text-anchor="start" fill="#111" >AsO<tspan font-size="15.5" dy="5.5">2</tspan><tspan dy="-5.5">(+)</tspan></text>
</g>
<g id="panel-f">
<text transform="matrix(1.1321 0 0 0.9996 827.24 442.00)" font-size="45" fill="#000">f</text>
<rect x="1175" y="483.2" width="31.4" height="40.6" fill="#b3b3b3" stroke="none" stroke-width="1" />
<rect x="1362.4" y="483.2" width="31.4" height="40.6" fill="#0026cd" stroke="none" stroke-width="1" />
<rect x="1553.4" y="483.2" width="31.4" height="40.6" fill="#cd1c00" stroke="none" stroke-width="1" />
<text x="1220" y="511.2" font-size="20.5" text-anchor="start" fill="#000" >Not significant</text>
<text x="1407" y="500" font-size="20.5" text-anchor="start" fill="#000" >Preferred in</text>
<text x="1407" y="522.2" font-size="20.5" text-anchor="start" fill="#000" >decreasing TE</text>
<text x="1598.2" y="500" font-size="20.5" text-anchor="start" fill="#000" >Preferred in</text>
<text x="1598.2" y="522.2" font-size="20.5" text-anchor="start" fill="#000" >increasing TE</text>
<rect x="890" y="563" width="1106" height="220" fill="#b3b3b3" stroke="none" stroke-width="1" />
<rect x="909" y="563" width="93" height="73" fill="#0026cd" stroke="none" stroke-width="1" />
<rect x="1040" y="563" width="37" height="73" fill="#0026cd" stroke="none" stroke-width="1" />
<rect x="1096" y="563" width="56" height="73" fill="#0026cd" stroke="none" stroke-width="1" />
<rect x="1190" y="563" width="18" height="73" fill="#0026cd" stroke="none" stroke-width="1" />
<rect x="1283" y="563" width="19" height="73" fill="#0026cd" stroke="none" stroke-width="1" />
<rect x="1415" y="563" width="18" height="73" fill="#0026cd" stroke="none" stroke-width="1" />
<rect x="1452" y="563" width="38" height="73" fill="#cd1c00" stroke="none" stroke-width="1" />
<rect x="1508" y="563" width="19" height="73" fill="#cd1c00" stroke="none" stroke-width="1" />
<rect x="1565" y="563" width="131" height="73" fill="#cd1c00" stroke="none" stroke-width="1" />
<rect x="1827" y="563" width="19" height="73" fill="#0026cd" stroke="none" stroke-width="1" />
<rect x="1864" y="563" width="19" height="73" fill="#cd1c00" stroke="none" stroke-width="1" />
<rect x="1939" y="563" width="19" height="73" fill="#cd1c00" stroke="none" stroke-width="1" />
<rect x="1040" y="636" width="56" height="74" fill="#cd1c00" stroke="none" stroke-width="1" />
<rect x="1340" y="636" width="18" height="74" fill="#cd1c00" stroke="none" stroke-width="1" />
<rect x="1396" y="636" width="37" height="74" fill="#0026cd" stroke="none" stroke-width="1" />
<rect x="1452" y="636" width="94" height="74" fill="#0026cd" stroke="none" stroke-width="1" />
<rect x="1583" y="636" width="19" height="74" fill="#0026cd" stroke="none" stroke-width="1" />
<rect x="1658" y="636" width="94" height="74" fill="#0026cd" stroke="none" stroke-width="1" />
<rect x="1902" y="636" width="19" height="74" fill="#cd1c00" stroke="none" stroke-width="1" />
<rect x="890" y="710" width="37" height="73" fill="#0026cd" stroke="none" stroke-width="1" />
<rect x="946" y="710" width="19" height="73" fill="#0026cd" stroke="none" stroke-width="1" />
<rect x="984" y="710" width="37" height="73" fill="#cd1c00" stroke="none" stroke-width="1" />
<rect x="1134" y="710" width="56" height="73" fill="#0026cd" stroke="none" stroke-width="1" />
<rect x="1208" y="710" width="38" height="73" fill="#0026cd" stroke="none" stroke-width="1" />
<rect x="1283" y="710" width="19" height="73" fill="#0026cd" stroke="none" stroke-width="1" />
<rect x="1358" y="710" width="38" height="73" fill="#0026cd" stroke="none" stroke-width="1" />
<rect x="1415" y="710" width="37" height="73" fill="#0026cd" stroke="none" stroke-width="1" />
<rect x="1490" y="710" width="18" height="73" fill="#cd1c00" stroke="none" stroke-width="1" />
<rect x="1508" y="710" width="19" height="73" fill="#0026cd" stroke="none" stroke-width="1" />
<rect x="1546" y="710" width="37" height="73" fill="#cd1c00" stroke="none" stroke-width="1" />
<rect x="1621" y="710" width="37" height="73" fill="#cd1c00" stroke="none" stroke-width="1" />
<rect x="1658" y="710" width="38" height="73" fill="#0026cd" stroke="none" stroke-width="1" />
<rect x="1696" y="710" width="18" height="73" fill="#cd1c00" stroke="none" stroke-width="1" />
<rect x="1714" y="710" width="38" height="73" fill="#0026cd" stroke="none" stroke-width="1" />
<rect x="1752" y="710" width="19" height="73" fill="#cd1c00" stroke="none" stroke-width="1" />
<rect x="1808" y="710" width="56" height="73" fill="#cd1c00" stroke="none" stroke-width="1" />
<rect x="1883" y="710" width="19" height="73" fill="#cd1c00" stroke="none" stroke-width="1" />
<rect x="1921" y="710" width="18" height="73" fill="#cd1c00" stroke="none" stroke-width="1" />
<rect x="1977" y="710" width="19" height="73" fill="#0026cd" stroke="none" stroke-width="1" />
<rect x="888.6" y="555.7" width="1108.8" height="234.3" fill="none" stroke="#555" stroke-width="1.3" />
<line x1="1133.9" y1="555.7" x2="1133.9" y2="790" stroke="#000" stroke-width="3.6" />
<line x1="1452.5" y1="555.7" x2="1452.5" y2="790" stroke="#000" stroke-width="3.6" />
<line x1="1752.3" y1="555.7" x2="1752.3" y2="790" stroke="#000" stroke-width="3.6" />
<line x1="883.2" y1="599.3" x2="888.6" y2="599.3" stroke="#333" stroke-width="1.4" />
<text x="878.6" y="606.9" font-size="21.5" text-anchor="end" fill="#000" >heat</text>
<line x1="883.2" y1="672.9" x2="888.6" y2="672.9" stroke="#333" stroke-width="1.4" />
<text x="878.6" y="680.5" font-size="21.5" text-anchor="end" fill="#000" >H2O2</text>
<line x1="883.2" y1="746.3" x2="888.6" y2="746.3" stroke="#333" stroke-width="1.4" />
<text x="878.6" y="753.9" font-size="21.5" text-anchor="end" fill="#000" >AsO2</text>
<line x1="899.3" y1="790" x2="899.3" y2="795.5" stroke="#333" stroke-width="1.4" />
<text transform="translate(907.1,826.3) rotate(-90)" font-size="22" text-anchor="middle" fill="#000">AAA</text>
<line x1="918" y1="790" x2="918" y2="795.5" stroke="#333" stroke-width="1.4" />
<text transform="translate(925.8,826.3) rotate(-90)" font-size="22" text-anchor="middle" fill="#000">ACA</text>
<line x1="936.8" y1="790" x2="936.8" y2="795.5" stroke="#333" stroke-width="1.4" />
<text transform="translate(944.5,826.3) rotate(-90)" font-size="22" text-anchor="middle" fill="#000">AGA</text>
<line x1="955.5" y1="790" x2="955.5" y2="795.5" stroke="#333" stroke-width="1.4" />
<text transform="translate(963.3,826.3) rotate(-90)" font-size="22" text-anchor="middle" fill="#000">ATA</text>
<line x1="974.2" y1="790" x2="974.2" y2="795.5" stroke="#333" stroke-width="1.4" />
<text transform="translate(982,826.3) rotate(-90)" font-size="22" text-anchor="middle" fill="#000">CAA</text>
<line x1="993" y1="790" x2="993" y2="795.5" stroke="#333" stroke-width="1.4" />
<text transform="translate(1000.8,826.3) rotate(-90)" font-size="22" text-anchor="middle" fill="#000">CCA</text>
<line x1="1011.7" y1="790" x2="1011.7" y2="795.5" stroke="#333" stroke-width="1.4" />
<text transform="translate(1019.5,826.3) rotate(-90)" font-size="22" text-anchor="middle" fill="#000">CGA</text>
<line x1="1030.5" y1="790" x2="1030.5" y2="795.5" stroke="#333" stroke-width="1.4" />
<text transform="translate(1038.2,826.3) rotate(-90)" font-size="22" text-anchor="middle" fill="#000">CTA</text>
<line x1="1049.2" y1="790" x2="1049.2" y2="795.5" stroke="#333" stroke-width="1.4" />
<text transform="translate(1057,826.3) rotate(-90)" font-size="22" text-anchor="middle" fill="#000">GAA</text>
<line x1="1067.9" y1="790" x2="1067.9" y2="795.5" stroke="#333" stroke-width="1.4" />
<text transform="translate(1075.7,826.3) rotate(-90)" font-size="22" text-anchor="middle" fill="#000">GCA</text>
<line x1="1086.7" y1="790" x2="1086.7" y2="795.5" stroke="#333" stroke-width="1.4" />
<text transform="translate(1094.5,826.3) rotate(-90)" font-size="22" text-anchor="middle" fill="#000">GGA</text>
<line x1="1105.4" y1="790" x2="1105.4" y2="795.5" stroke="#333" stroke-width="1.4" />
<text transform="translate(1113.2,826.3) rotate(-90)" font-size="22" text-anchor="middle" fill="#000">GTA</text>
<line x1="1124.1" y1="790" x2="1124.1" y2="795.5" stroke="#333" stroke-width="1.4" />
<text transform="translate(1131.9,826.3) rotate(-90)" font-size="22" text-anchor="middle" fill="#000">TCA</text>
<line x1="1142.9" y1="790" x2="1142.9" y2="795.5" stroke="#333" stroke-width="1.4" />
<text transform="translate(1150.7,826.3) rotate(-90)" font-size="22" text-anchor="middle" fill="#000">TTA</text>
<line x1="1161.6" y1="790" x2="1161.6" y2="795.5" stroke="#333" stroke-width="1.4" />
<text transform="translate(1169.4,826.3) rotate(-90)" font-size="22" text-anchor="middle" fill="#000">AAT</text>
<line x1="1180.4" y1="790" x2="1180.4" y2="795.5" stroke="#333" stroke-width="1.4" />
<text transform="translate(1188.2,826.3) rotate(-90)" font-size="22" text-anchor="middle" fill="#000">ACT</text>
<line x1="1199.1" y1="790" x2="1199.1" y2="795.5" stroke="#333" stroke-width="1.4" />
<text transform="translate(1206.9,826.3) rotate(-90)" font-size="22" text-anchor="middle" fill="#000">AGT</text>
<line x1="1217.8" y1="790" x2="1217.8" y2="795.5" stroke="#333" stroke-width="1.4" />
<text transform="translate(1225.6,826.3) rotate(-90)" font-size="22" text-anchor="middle" fill="#000">ATT</text>
<line x1="1236.6" y1="790" x2="1236.6" y2="795.5" stroke="#333" stroke-width="1.4" />
<text transform="translate(1244.4,826.3) rotate(-90)" font-size="22" text-anchor="middle" fill="#000">CAT</text>
<line x1="1255.3" y1="790" x2="1255.3" y2="795.5" stroke="#333" stroke-width="1.4" />
<text transform="translate(1263.1,826.3) rotate(-90)" font-size="22" text-anchor="middle" fill="#000">CCT</text>
<line x1="1274.1" y1="790" x2="1274.1" y2="795.5" stroke="#333" stroke-width="1.4" />
<text transform="translate(1281.9,826.3) rotate(-90)" font-size="22" text-anchor="middle" fill="#000">CGT</text>
<line x1="1292.8" y1="790" x2="1292.8" y2="795.5" stroke="#333" stroke-width="1.4" />
<text transform="translate(1300.6,826.3) rotate(-90)" font-size="22" text-anchor="middle" fill="#000">CTT</text>
<line x1="1311.5" y1="790" x2="1311.5" y2="795.5" stroke="#333" stroke-width="1.4" />
<text transform="translate(1319.3,826.3) rotate(-90)" font-size="22" text-anchor="middle" fill="#000">GAT</text>
<line x1="1330.3" y1="790" x2="1330.3" y2="795.5" stroke="#333" stroke-width="1.4" />
<text transform="translate(1338.1,826.3) rotate(-90)" font-size="22" text-anchor="middle" fill="#000">GCT</text>
<line x1="1349" y1="790" x2="1349" y2="795.5" stroke="#333" stroke-width="1.4" />
<text transform="translate(1356.8,826.3) rotate(-90)" font-size="22" text-anchor="middle" fill="#000">GGT</text>
<line x1="1367.8" y1="790" x2="1367.8" y2="795.5" stroke="#333" stroke-width="1.4" />
<text transform="translate(1375.6,826.3) rotate(-90)" font-size="22" text-anchor="middle" fill="#000">GTT</text>
<line x1="1386.5" y1="790" x2="1386.5" y2="795.5" stroke="#333" stroke-width="1.4" />
<text transform="translate(1394.3,826.3) rotate(-90)" font-size="22" text-anchor="middle" fill="#000">TAT</text>
<line x1="1405.2" y1="790" x2="1405.2" y2="795.5" stroke="#333" stroke-width="1.4" />
<text transform="translate(1413,826.3) rotate(-90)" font-size="22" text-anchor="middle" fill="#000">TCT</text>
<line x1="1424" y1="790" x2="1424" y2="795.5" stroke="#333" stroke-width="1.4" />
<text transform="translate(1431.8,826.3) rotate(-90)" font-size="22" text-anchor="middle" fill="#000">TGT</text>
<line x1="1442.7" y1="790" x2="1442.7" y2="795.5" stroke="#333" stroke-width="1.4" />
<text transform="translate(1450.5,826.3) rotate(-90)" font-size="22" text-anchor="middle" fill="#000">TTT</text>
<line x1="1461.5" y1="790" x2="1461.5" y2="795.5" stroke="#333" stroke-width="1.4" />
<text transform="translate(1469.3,826.3) rotate(-90)" font-size="22" text-anchor="middle" fill="#000">AAC</text>
<line x1="1480.2" y1="790" x2="1480.2" y2="795.5" stroke="#333" stroke-width="1.4" />
<text transform="translate(1488,826.3) rotate(-90)" font-size="22" text-anchor="middle" fill="#000">ACC</text>
<line x1="1498.9" y1="790" x2="1498.9" y2="795.5" stroke="#333" stroke-width="1.4" />
<text transform="translate(1506.7,826.3) rotate(-90)" font-size="22" text-anchor="middle" fill="#000">AGC</text>
<line x1="1517.7" y1="790" x2="1517.7" y2="795.5" stroke="#333" stroke-width="1.4" />
<text transform="translate(1525.5,826.3) rotate(-90)" font-size="22" text-anchor="middle" fill="#000">ATC</text>
<line x1="1536.4" y1="790" x2="1536.4" y2="795.5" stroke="#333" stroke-width="1.4" />
<text transform="translate(1544.2,826.3) rotate(-90)" font-size="22" text-anchor="middle" fill="#000">CAC</text>
<line x1="1555.2" y1="790" x2="1555.2" y2="795.5" stroke="#333" stroke-width="1.4" />
<text transform="translate(1563,826.3) rotate(-90)" font-size="22" text-anchor="middle" fill="#000">CCC</text>
<line x1="1573.9" y1="790" x2="1573.9" y2="795.5" stroke="#333" stroke-width="1.4" />
<text transform="translate(1581.7,826.3) rotate(-90)" font-size="22" text-anchor="middle" fill="#000">CGC</text>
<line x1="1592.6" y1="790" x2="1592.6" y2="795.5" stroke="#333" stroke-width="1.4" />
<text transform="translate(1600.4,826.3) rotate(-90)" font-size="22" text-anchor="middle" fill="#000">CTC</text>
<line x1="1611.4" y1="790" x2="1611.4" y2="795.5" stroke="#333" stroke-width="1.4" />
<text transform="translate(1619.2,826.3) rotate(-90)" font-size="22" text-anchor="middle" fill="#000">GAC</text>
<line x1="1630.1" y1="790" x2="1630.1" y2="795.5" stroke="#333" stroke-width="1.4" />
<text transform="translate(1637.9,826.3) rotate(-90)" font-size="22" text-anchor="middle" fill="#000">GCC</text>
<line x1="1648.9" y1="790" x2="1648.9" y2="795.5" stroke="#333" stroke-width="1.4" />
<text transform="translate(1656.7,826.3) rotate(-90)" font-size="22" text-anchor="middle" fill="#000">GGC</text>
<line x1="1667.6" y1="790" x2="1667.6" y2="795.5" stroke="#333" stroke-width="1.4" />
<text transform="translate(1675.4,826.3) rotate(-90)" font-size="22" text-anchor="middle" fill="#000">GTC</text>
<line x1="1686.3" y1="790" x2="1686.3" y2="795.5" stroke="#333" stroke-width="1.4" />
<text transform="translate(1694.1,826.3) rotate(-90)" font-size="22" text-anchor="middle" fill="#000">TAC</text>
<line x1="1705.1" y1="790" x2="1705.1" y2="795.5" stroke="#333" stroke-width="1.4" />
<text transform="translate(1712.9,826.3) rotate(-90)" font-size="22" text-anchor="middle" fill="#000">TCC</text>
<line x1="1723.8" y1="790" x2="1723.8" y2="795.5" stroke="#333" stroke-width="1.4" />
<text transform="translate(1731.6,826.3) rotate(-90)" font-size="22" text-anchor="middle" fill="#000">TGC</text>
<line x1="1742.6" y1="790" x2="1742.6" y2="795.5" stroke="#333" stroke-width="1.4" />
<text transform="translate(1750.4,826.3) rotate(-90)" font-size="22" text-anchor="middle" fill="#000">TTC</text>
<line x1="1761.3" y1="790" x2="1761.3" y2="795.5" stroke="#333" stroke-width="1.4" />
<text transform="translate(1769.1,826.3) rotate(-90)" font-size="22" text-anchor="middle" fill="#000">AAG</text>
<line x1="1780" y1="790" x2="1780" y2="795.5" stroke="#333" stroke-width="1.4" />
<text transform="translate(1787.8,826.3) rotate(-90)" font-size="22" text-anchor="middle" fill="#000">ACG</text>
<line x1="1798.8" y1="790" x2="1798.8" y2="795.5" stroke="#333" stroke-width="1.4" />
<text transform="translate(1806.6,826.3) rotate(-90)" font-size="22" text-anchor="middle" fill="#000">AGG</text>
<line x1="1817.5" y1="790" x2="1817.5" y2="795.5" stroke="#333" stroke-width="1.4" />
<text transform="translate(1825.3,826.3) rotate(-90)" font-size="22" text-anchor="middle" fill="#000">CAG</text>
<line x1="1836.3" y1="790" x2="1836.3" y2="795.5" stroke="#333" stroke-width="1.4" />
<text transform="translate(1844.1,826.3) rotate(-90)" font-size="22" text-anchor="middle" fill="#000">CCG</text>
<line x1="1855" y1="790" x2="1855" y2="795.5" stroke="#333" stroke-width="1.4" />
<text transform="translate(1862.8,826.3) rotate(-90)" font-size="22" text-anchor="middle" fill="#000">CGG</text>
<line x1="1873.8" y1="790" x2="1873.8" y2="795.5" stroke="#333" stroke-width="1.4" />
<text transform="translate(1881.5,826.3) rotate(-90)" font-size="22" text-anchor="middle" fill="#000">CTG</text>
<line x1="1892.5" y1="790" x2="1892.5" y2="795.5" stroke="#333" stroke-width="1.4" />
<text transform="translate(1900.3,826.3) rotate(-90)" font-size="22" text-anchor="middle" fill="#000">GAG</text>
<line x1="1911.2" y1="790" x2="1911.2" y2="795.5" stroke="#333" stroke-width="1.4" />
<text transform="translate(1919,826.3) rotate(-90)" font-size="22" text-anchor="middle" fill="#000">GCG</text>
<line x1="1930" y1="790" x2="1930" y2="795.5" stroke="#333" stroke-width="1.4" />
<text transform="translate(1937.8,826.3) rotate(-90)" font-size="22" text-anchor="middle" fill="#000">GGG</text>
<line x1="1948.7" y1="790" x2="1948.7" y2="795.5" stroke="#333" stroke-width="1.4" />
<text transform="translate(1956.5,826.3) rotate(-90)" font-size="22" text-anchor="middle" fill="#000">GTG</text>
<line x1="1967.4" y1="790" x2="1967.4" y2="795.5" stroke="#333" stroke-width="1.4" />
<text transform="translate(1975.2,826.3) rotate(-90)" font-size="22" text-anchor="middle" fill="#000">TCG</text>
<line x1="1986.2" y1="790" x2="1986.2" y2="795.5" stroke="#333" stroke-width="1.4" />
<text transform="translate(1994,826.3) rotate(-90)" font-size="22" text-anchor="middle" fill="#000">TTG</text>
</g>
<g id="panel-e">
<text transform="matrix(1.0165 0 0 0.9843 6.81 952.31)" font-size="45" fill="#000">e</text>
<text transform="translate(17.6,1191.6) rotate(-90)" font-size="24.3" text-anchor="middle" fill="#000" >Codon use per thousand</text>
<line x1="70.7" y1="1056.4" x2="75.2" y2="1056.4" stroke="#333333" stroke-width="1.1" />
<text x="67.3" y="1062.6" font-size="17.5" text-anchor="end" fill="#1a1a1a" >1000</text>
<line x1="70.7" y1="1149" x2="75.2" y2="1149" stroke="#333333" stroke-width="1.1" />
<text x="67.3" y="1155.2" font-size="17.5" text-anchor="end" fill="#1a1a1a" >100</text>
<line x1="70.7" y1="1241.9" x2="75.2" y2="1241.9" stroke="#333333" stroke-width="1.1" />
<text x="67.3" y="1248.1" font-size="17.5" text-anchor="end" fill="#1a1a1a" >10</text>
<line x1="70.7" y1="1334.8" x2="75.2" y2="1334.8" stroke="#333333" stroke-width="1.1" />
<text x="67.3" y="1341" font-size="17.5" text-anchor="end" fill="#1a1a1a" >1</text>
<text x="213.6" y="993.7" font-size="16.7" text-anchor="middle" fill="#1a1a1a" >AAA</text>
<text x="499.6" y="993.7" font-size="16.7" text-anchor="middle" fill="#1a1a1a" >AAG</text>
<path d="M126.8,1046.7L126.8,1038.6L300.4,1038.6L300.4,1046.7" fill="none" stroke="#333333" stroke-width="1.1"/>
<text x="213.6" y="1034" font-size="16.4" text-anchor="middle" fill="#111" >**</text>
<path d="M213.6,1077L213.6,1069.2L300.4,1069.2L300.4,1077" fill="none" stroke="#333333" stroke-width="1.1"/>
<text x="257" y="1065.2" font-size="16.5" text-anchor="middle" fill="#111" >ns</text>
<path d="M126.8,1107.2L126.8,1099.6L213.6,1099.6L213.6,1107.2" fill="none" stroke="#333333" stroke-width="1.1"/>
<text x="170.3" y="1095" font-size="16.4" text-anchor="middle" fill="#111" >**</text>
<path d="M412.8,1046.7L412.8,1038.6L586.4,1038.6L586.4,1046.7" fill="none" stroke="#333333" stroke-width="1.1"/>
<text x="499.6" y="1034.1" font-size="16.4" text-anchor="middle" fill="#111" >****</text>
<path d="M499.6,1076.8L499.6,1068.9L586.4,1068.9L586.4,1076.8" fill="none" stroke="#333333" stroke-width="1.1"/>
<text x="542.8" y="1064.4" font-size="16.4" text-anchor="middle" fill="#111" >*</text>
<path d="M412.8,1107.1L412.8,1099.5L499.6,1099.5L499.6,1107.1" fill="none" stroke="#333333" stroke-width="1.1"/>
<text x="456.1" y="1095.1" font-size="16.4" text-anchor="middle" fill="#111" >***</text>
<line x1="127" y1="1144.1" x2="127" y2="1201.4" stroke="#333333" stroke-width="1.5" />
<line x1="127" y1="1243.9" x2="127" y2="1309" stroke="#333333" stroke-width="1.5" />
<rect x="94.3" y="1201.4" width="65.4" height="42.5" fill="#fff" stroke="#333333" stroke-width="1.5" />
<line x1="94.3" y1="1219.2" x2="159.7" y2="1219.2" stroke="#333333" stroke-width="3.0" />
<circle cx="127" cy="1311.9" r="3.4" fill="#333333"/>
<circle cx="127" cy="1317.1" r="3.4" fill="#333333"/>
<circle cx="127" cy="1324.9" r="3.4" fill="#333333"/>
<circle cx="127" cy="1333.6" r="3.4" fill="#333333"/>
<circle cx="127" cy="1340.7" r="3.4" fill="#333333"/>
<circle cx="127" cy="1365.5" r="3.4" fill="#333333"/>
<line x1="213.8" y1="1144.1" x2="213.8" y2="1204.3" stroke="#333333" stroke-width="1.5" />
<line x1="213.8" y1="1248.9" x2="213.8" y2="1312.4" stroke="#333333" stroke-width="1.5" />
<rect x="181" y="1204.3" width="65.6" height="44.6" fill="#fff" stroke="#333333" stroke-width="1.5" />
<line x1="181" y1="1224.8" x2="246.6" y2="1224.8" stroke="#333333" stroke-width="3.0" />
<circle cx="213.8" cy="1315.9" r="3.4" fill="#333333"/>
<circle cx="213.8" cy="1321.8" r="3.4" fill="#333333"/>
<circle cx="213.8" cy="1324.9" r="3.4" fill="#333333"/>
<circle cx="213.8" cy="1333.9" r="3.4" fill="#333333"/>
<circle cx="213.8" cy="1345.2" r="3.4" fill="#333333"/>
<circle cx="213.8" cy="1365.5" r="3.4" fill="#333333"/>
<line x1="300.5" y1="1146.4" x2="300.5" y2="1203.1" stroke="#333333" stroke-width="1.5" />
<line x1="300.5" y1="1252.9" x2="300.5" y2="1327.7" stroke="#333333" stroke-width="1.5" />
<rect x="267.6" y="1203.1" width="65.8" height="49.8" fill="#fff" stroke="#333333" stroke-width="1.5" />
<line x1="267.6" y1="1228.1" x2="333.4" y2="1228.1" stroke="#333333" stroke-width="3.0" />
<circle cx="300.5" cy="1330.8" r="3.4" fill="#333333"/>
<circle cx="300.5" cy="1332.9" r="3.4" fill="#333333"/>
<circle cx="300.5" cy="1344.3" r="3.4" fill="#333333"/>
<circle cx="300.5" cy="1350.9" r="3.4" fill="#333333"/>
<line x1="412.8" y1="1142.8" x2="412.8" y2="1177.8" stroke="#333333" stroke-width="1.5" />
<line x1="412.8" y1="1205.4" x2="412.8" y2="1244.5" stroke="#333333" stroke-width="1.5" />
<rect x="380.1" y="1177.8" width="65.4" height="27.6" fill="#fff" stroke="#333333" stroke-width="1.5" />
<line x1="380.1" y1="1191.6" x2="445.5" y2="1191.6" stroke="#333333" stroke-width="3.0" />
<circle cx="412.8" cy="1116.1" r="3.4" fill="#333333"/>
<circle cx="412.8" cy="1120.1" r="3.4" fill="#333333"/>
<circle cx="412.8" cy="1130.8" r="3.4" fill="#333333"/>
<circle cx="412.8" cy="1246.7" r="3.4" fill="#333333"/>
<circle cx="412.8" cy="1249.9" r="3.4" fill="#333333"/>
<circle cx="412.8" cy="1253.1" r="3.4" fill="#333333"/>
<circle cx="412.8" cy="1256.3" r="3.4" fill="#333333"/>
<circle cx="412.8" cy="1259.5" r="3.4" fill="#333333"/>
<circle cx="412.8" cy="1262.7" r="3.4" fill="#333333"/>
<circle cx="412.8" cy="1265.9" r="3.4" fill="#333333"/>
<circle cx="412.8" cy="1269.1" r="3.4" fill="#333333"/>
<circle cx="412.8" cy="1272.3" r="3.4" fill="#333333"/>
<circle cx="412.8" cy="1275.5" r="3.4" fill="#333333"/>
<circle cx="412.8" cy="1278.7" r="3.4" fill="#333333"/>
<circle cx="412.8" cy="1287.4" r="3.4" fill="#333333"/>
<circle cx="412.8" cy="1303.4" r="3.4" fill="#333333"/>
<line x1="499.6" y1="1133.4" x2="499.6" y2="1174.9" stroke="#333333" stroke-width="1.5" />
<line x1="499.6" y1="1204.3" x2="499.6" y2="1246.3" stroke="#333333" stroke-width="1.5" />
<rect x="466.7" y="1174.9" width="65.8" height="29.4" fill="#fff" stroke="#333333" stroke-width="1.5" />
<line x1="466.7" y1="1189.6" x2="532.5" y2="1189.6" stroke="#333333" stroke-width="3.0" />
<circle cx="499.6" cy="1116.1" r="3.4" fill="#333333"/>
<circle cx="499.6" cy="1119.5" r="3.4" fill="#333333"/>
<circle cx="499.6" cy="1123.2" r="3.4" fill="#333333"/>
<circle cx="499.6" cy="1126.6" r="3.4" fill="#333333"/>
<circle cx="499.6" cy="1130.3" r="3.4" fill="#333333"/>
<circle cx="499.6" cy="1249" r="3.4" fill="#333333"/>
<circle cx="499.6" cy="1252.3" r="3.4" fill="#333333"/>
<circle cx="499.6" cy="1255.6" r="3.4" fill="#333333"/>
<circle cx="499.6" cy="1258.9" r="3.4" fill="#333333"/>
<circle cx="499.6" cy="1262.2" r="3.4" fill="#333333"/>
<circle cx="499.6" cy="1265.5" r="3.4" fill="#333333"/>
<circle cx="499.6" cy="1268.8" r="3.4" fill="#333333"/>
<circle cx="499.6" cy="1279.6" r="3.4" fill="#333333"/>
<circle cx="499.6" cy="1287.9" r="3.4" fill="#333333"/>
<circle cx="499.6" cy="1295.7" r="3.4" fill="#333333"/>
<circle cx="499.6" cy="1303.4" r="3.4" fill="#333333"/>
<line x1="586.4" y1="1128.3" x2="586.4" y2="1172.9" stroke="#333333" stroke-width="1.5" />
<line x1="586.4" y1="1204.3" x2="586.4" y2="1250" stroke="#333333" stroke-width="1.5" />
<rect x="553.5" y="1172.9" width="65.8" height="31.4" fill="#fff" stroke="#333333" stroke-width="1.5" />
<line x1="553.5" y1="1186.3" x2="619.3" y2="1186.3" stroke="#333333" stroke-width="3.0" />
<circle cx="586.4" cy="1111.8" r="3.4" fill="#333333"/>
<circle cx="586.4" cy="1115" r="3.4" fill="#333333"/>
<circle cx="586.4" cy="1120.7" r="3.4" fill="#333333"/>
<circle cx="586.4" cy="1125.2" r="3.4" fill="#333333"/>
<circle cx="586.4" cy="1253.4" r="3.4" fill="#333333"/>
<circle cx="586.4" cy="1257.4" r="3.4" fill="#333333"/>
<circle cx="586.4" cy="1264.1" r="3.4" fill="#333333"/>
<circle cx="586.4" cy="1275" r="3.4" fill="#333333"/>
<circle cx="586.4" cy="1280.5" r="3.4" fill="#333333"/>
<circle cx="586.4" cy="1285.7" r="3.4" fill="#333333"/>
<circle cx="586.4" cy="1289.4" r="3.4" fill="#333333"/>
<circle cx="586.4" cy="1295.7" r="3.4" fill="#333333"/>
<circle cx="586.4" cy="1299.7" r="3.4" fill="#333333"/>
<circle cx="586.4" cy="1307.9" r="3.4" fill="#333333"/>
<circle cx="586.4" cy="1314.1" r="3.4" fill="#333333"/>
<circle cx="586.4" cy="1360.8" r="3.4" fill="#333333"/>
<rect x="75.2" y="1002.6" width="277.1" height="376.9" fill="none" stroke="#666" stroke-width="1.3" />
<rect x="361.3" y="1002.6" width="277.1" height="376.9" fill="none" stroke="#666" stroke-width="1.3" />
<line x1="127" y1="1379.5" x2="127" y2="1384.1" stroke="#333333" stroke-width="1.1" />
<text x="127" y="1400.3" font-size="18.2" text-anchor="middle" fill="#1a1a1a" >decreased</text>
<text x="127" y="1419.8" font-size="18.2" text-anchor="middle" fill="#1a1a1a" >TE</text>
<line x1="213.8" y1="1379.5" x2="213.8" y2="1384.1" stroke="#333333" stroke-width="1.1" />
<text x="213.8" y="1400.3" font-size="18.2" text-anchor="middle" fill="#1a1a1a" >average</text>
<line x1="300.5" y1="1379.5" x2="300.5" y2="1384.1" stroke="#333333" stroke-width="1.1" />
<text x="300.5" y="1400.3" font-size="18.2" text-anchor="middle" fill="#1a1a1a" >increased</text>
<text x="300.5" y="1419.8" font-size="18.2" text-anchor="middle" fill="#1a1a1a" >TE</text>
<line x1="412.8" y1="1379.5" x2="412.8" y2="1384.1" stroke="#333333" stroke-width="1.1" />
<text x="412.8" y="1400.3" font-size="18.2" text-anchor="middle" fill="#1a1a1a" >decreased</text>
<text x="412.8" y="1419.8" font-size="18.2" text-anchor="middle" fill="#1a1a1a" >TE</text>
<line x1="499.6" y1="1379.5" x2="499.6" y2="1384.1" stroke="#333333" stroke-width="1.1" />
<text x="499.6" y="1400.3" font-size="18.2" text-anchor="middle" fill="#1a1a1a" >average</text>
<line x1="586.4" y1="1379.5" x2="586.4" y2="1384.1" stroke="#333333" stroke-width="1.1" />
<text x="586.4" y="1400.3" font-size="18.2" text-anchor="middle" fill="#1a1a1a" >increased</text>
<text x="586.4" y="1419.8" font-size="18.2" text-anchor="middle" fill="#1a1a1a" >TE</text>
<text x="356.4" y="1443.1" font-size="21.2" text-anchor="middle" fill="#111" >ΔTE tertile</text>
</g>
<g id="panel-g">
<text transform="matrix(1.0247 0 0 0.9918 686.54 947.24)" font-size="45" fill="#000">g</text>
<text transform="translate(758.2,1185.6) rotate(-90)" font-size="27.6" text-anchor="middle" fill="#000" >Change in isoaccepter abundance</text>
<text transform="translate(787.8,1184.8) rotate(-90)" font-size="27.8" text-anchor="middle" fill="#000" >(stress/ control)</text>
<line x1="831.6" y1="998.3" x2="836.4" y2="998.3" stroke="#333333" stroke-width="1.1" />
<text x="827.3" y="1005.7" font-size="20.7" text-anchor="end" fill="#1a1a1a" >5.0</text>
<line x1="831.6" y1="1084.6" x2="836.4" y2="1084.6" stroke="#333333" stroke-width="1.1" />
<text x="827.3" y="1092" font-size="20.7" text-anchor="end" fill="#1a1a1a" >3.0</text>
<line x1="831.6" y1="1269.7" x2="836.4" y2="1269.7" stroke="#333333" stroke-width="1.1" />
<text x="827.3" y="1277.1" font-size="20.7" text-anchor="end" fill="#1a1a1a" >1.0</text>
<line x1="831.6" y1="1386.3" x2="836.4" y2="1386.3" stroke="#333333" stroke-width="1.1" />
<text x="827.3" y="1393.7" font-size="20.7" text-anchor="end" fill="#1a1a1a" >0.5</text>
<text x="907" y="953" font-size="27.3" text-anchor="middle" fill="#1a1a1a" >heat</text>
<line x1="836.4" y1="1269.7" x2="977.6" y2="1269.7" stroke="#bdbdbd" stroke-width="1.2" stroke-dasharray="7.4 4.3" stroke-dashoffset="2.9"/>
<text x="1058.6" y="953" font-size="27.3" text-anchor="middle" fill="#1a1a1a" >H2O2</text>
<line x1="987.7" y1="1269.7" x2="1129" y2="1269.7" stroke="#bdbdbd" stroke-width="1.2" stroke-dasharray="7.4 4.3" stroke-dashoffset="2.9"/>
<text x="1209.8" y="953" font-size="27.3" text-anchor="middle" fill="#1a1a1a" >AsO2</text>
<line x1="1139.5" y1="1269.7" x2="1280.7" y2="1269.7" stroke="#bdbdbd" stroke-width="1.2" stroke-dasharray="7.4 4.3" stroke-dashoffset="2.9"/>
<line x1="856.1" y1="1213.5" x2="856.1" y2="1253.1" stroke="#333333" stroke-width="1.7" />
<line x1="856.1" y1="1282.4" x2="856.1" y2="1324.3" stroke="#333333" stroke-width="1.7" />
<rect x="843.2" y="1253.1" width="25.8" height="29.3" fill="#fff" stroke="#333333" stroke-width="1.7" />
<line x1="843.2" y1="1273.2" x2="869" y2="1273.2" stroke="#333333" stroke-width="3.2" />
<circle cx="856.1" cy="1327.3" r="4.1" fill="#333333"/>
<circle cx="856.1" cy="1338.4" r="4.1" fill="#333333"/>
<line x1="890.2" y1="1216.7" x2="890.2" y2="1256.5" stroke="#333333" stroke-width="1.7" />
<line x1="890.2" y1="1284.3" x2="890.2" y2="1315.5" stroke="#333333" stroke-width="1.7" />
<rect x="877.3" y="1256.5" width="25.8" height="27.8" fill="#fff" stroke="#333333" stroke-width="1.7" />
<line x1="877.3" y1="1268.7" x2="903.1" y2="1268.7" stroke="#333333" stroke-width="3.2" />
<circle cx="890.2" cy="1334.1" r="4.1" fill="#333333"/>
<line x1="924" y1="1225.8" x2="924" y2="1243.4" stroke="#333333" stroke-width="1.7" />
<line x1="924" y1="1282.4" x2="924" y2="1337" stroke="#333333" stroke-width="1.7" />
<rect x="911.1" y="1243.4" width="25.8" height="39" fill="#fff" stroke="#333333" stroke-width="1.7" />
<line x1="911.1" y1="1265" x2="936.9" y2="1265" stroke="#333333" stroke-width="3.2" />
<circle cx="924" cy="1356.3" r="4.1" fill="#333333"/>
<line x1="957.7" y1="1240.5" x2="957.7" y2="1268.2" stroke="#333333" stroke-width="1.7" />
<line x1="957.7" y1="1293.9" x2="957.7" y2="1328.6" stroke="#333333" stroke-width="1.7" />
<rect x="944.8" y="1268.2" width="25.8" height="25.7" fill="#fff" stroke="#333333" stroke-width="1.7" />
<line x1="944.8" y1="1280.2" x2="970.6" y2="1280.2" stroke="#333333" stroke-width="3.2" />
<circle cx="957.7" cy="1333.3" r="4.1" fill="#333333"/>
<circle cx="957.7" cy="1376" r="4.1" fill="#333333"/>
<line x1="1007.6" y1="1245.3" x2="1007.6" y2="1267.8" stroke="#333333" stroke-width="1.7" />
<line x1="1007.6" y1="1291.8" x2="1007.6" y2="1304.4" stroke="#333333" stroke-width="1.7" />
<rect x="994.7" y="1267.8" width="25.8" height="24" fill="#fff" stroke="#333333" stroke-width="1.7" />
<line x1="994.7" y1="1277.1" x2="1020.5" y2="1277.1" stroke="#333333" stroke-width="3.2" />
<circle cx="1007.6" cy="1171.3" r="4.1" fill="#333333"/>
<circle cx="1007.6" cy="1198" r="4.1" fill="#333333"/>
<circle cx="1007.6" cy="1204.5" r="4.1" fill="#333333"/>
<line x1="1041.5" y1="1277.5" x2="1041.5" y2="1278.9" stroke="#333333" stroke-width="1.7" />
<line x1="1041.5" y1="1296" x2="1041.5" y2="1308.7" stroke="#333333" stroke-width="1.7" />
<rect x="1028.6" y="1278.9" width="25.8" height="17.1" fill="#fff" stroke="#333333" stroke-width="1.7" />
<line x1="1028.6" y1="1291.6" x2="1054.4" y2="1291.6" stroke="#333333" stroke-width="3.2" />
<circle cx="1041.5" cy="1186.2" r="4.1" fill="#333333"/>
<circle cx="1041.5" cy="1210.6" r="4.1" fill="#333333"/>
<circle cx="1041.5" cy="1216.6" r="4.1" fill="#333333"/>
<circle cx="1041.5" cy="1250.2" r="4.1" fill="#333333"/>
<line x1="1075.2" y1="1230.7" x2="1075.2" y2="1254.9" stroke="#333333" stroke-width="1.7" />
<line x1="1075.2" y1="1278.5" x2="1075.2" y2="1310.3" stroke="#333333" stroke-width="1.7" />
<rect x="1062.3" y="1254.9" width="25.8" height="23.6" fill="#fff" stroke="#333333" stroke-width="1.7" />
<line x1="1062.3" y1="1263.9" x2="1088.1" y2="1263.9" stroke="#333333" stroke-width="3.2" />
<circle cx="1075.2" cy="1315.6" r="4.1" fill="#333333"/>
<circle cx="1075.2" cy="1318" r="4.1" fill="#333333"/>
<circle cx="1075.2" cy="1325.9" r="4.1" fill="#333333"/>
<line x1="1109.1" y1="1258.4" x2="1109.1" y2="1280.8" stroke="#333333" stroke-width="1.7" />
<line x1="1109.1" y1="1300.1" x2="1109.1" y2="1321.8" stroke="#333333" stroke-width="1.7" />
<rect x="1096.2" y="1280.8" width="25.8" height="19.3" fill="#fff" stroke="#333333" stroke-width="1.7" />
<line x1="1096.2" y1="1290.6" x2="1122" y2="1290.6" stroke="#333333" stroke-width="3.2" />
<line x1="1159.1" y1="1228.4" x2="1159.1" y2="1252.8" stroke="#333333" stroke-width="1.7" />
<line x1="1159.1" y1="1329.6" x2="1159.1" y2="1382.3" stroke="#333333" stroke-width="1.7" />
<rect x="1146.2" y="1252.8" width="25.8" height="76.8" fill="#fff" stroke="#333333" stroke-width="1.7" />
<line x1="1146.2" y1="1290.8" x2="1172" y2="1290.8" stroke="#333333" stroke-width="3.2" />
<circle cx="1159.1" cy="1041.5" r="4.1" fill="#333333"/>
<circle cx="1159.1" cy="1043.8" r="4.1" fill="#333333"/>
<circle cx="1159.1" cy="1080.4" r="4.1" fill="#333333"/>
<circle cx="1159.1" cy="1090.7" r="4.1" fill="#333333"/>
<circle cx="1159.1" cy="1106.2" r="4.1" fill="#333333"/>
<line x1="1192.9" y1="1235.6" x2="1192.9" y2="1253.7" stroke="#333333" stroke-width="1.7" />
<line x1="1192.9" y1="1314.2" x2="1192.9" y2="1369.2" stroke="#333333" stroke-width="1.7" />
<rect x="1180" y="1253.7" width="25.8" height="60.5" fill="#fff" stroke="#333333" stroke-width="1.7" />
<line x1="1180" y1="1289.8" x2="1205.8" y2="1289.8" stroke="#333333" stroke-width="3.2" />
<circle cx="1192.9" cy="1060.7" r="4.1" fill="#333333"/>
<circle cx="1192.9" cy="1068.2" r="4.1" fill="#333333"/>
<circle cx="1192.9" cy="1091.3" r="4.1" fill="#333333"/>
<line x1="1226.7" y1="1252.2" x2="1226.7" y2="1298" stroke="#333333" stroke-width="1.7" />
<line x1="1226.7" y1="1352.1" x2="1226.7" y2="1386.4" stroke="#333333" stroke-width="1.7" />
<rect x="1213.8" y="1298" width="25.8" height="54.1" fill="#fff" stroke="#333333" stroke-width="1.7" />
<line x1="1213.8" y1="1321.8" x2="1239.6" y2="1321.8" stroke="#333333" stroke-width="3.2" />
<line x1="1260.6" y1="1223.3" x2="1260.6" y2="1284.4" stroke="#333333" stroke-width="1.7" />
<line x1="1260.6" y1="1330.2" x2="1260.6" y2="1356.5" stroke="#333333" stroke-width="1.7" />
<rect x="1247.7" y="1284.4" width="25.8" height="45.8" fill="#fff" stroke="#333333" stroke-width="1.7" />
<line x1="1247.7" y1="1311.7" x2="1273.5" y2="1311.7" stroke="#333333" stroke-width="3.2" />
<path d="M856.1,994.2L856.1,983.9L958,983.9L958,994.2" fill="none" stroke="#333333" stroke-width="1.1"/>
<text x="907" y="976.6" font-size="13.5" text-anchor="middle" fill="#111" >*</text>
<path d="M890.2,1035.5L890.2,1024.6L924,1024.6L924,1035.5" fill="none" stroke="#333333" stroke-width="1.1"/>
<text x="907" y="1020.7" font-size="14" text-anchor="middle" fill="#111" >ns</text>
<path d="M1007.6,994.4L1007.6,983.9L1109.4,983.9L1109.4,994.4" fill="none" stroke="#333333" stroke-width="1.1"/>
<text x="1058.5" y="976.6" font-size="13.5" text-anchor="middle" fill="#111" >**</text>
<path d="M1041.5,1035.5L1041.5,1024.6L1075.4,1024.6L1075.4,1035.5" fill="none" stroke="#333333" stroke-width="1.1"/>
<text x="1058.5" y="1020.7" font-size="14" text-anchor="middle" fill="#111" >ns</text>
<path d="M1159.1,994.4L1159.1,983.9L1260.8,983.9L1260.8,994.4" fill="none" stroke="#333333" stroke-width="1.1"/>
<text x="1209.9" y="976.6" font-size="13.5" text-anchor="middle" fill="#111" >*</text>
<path d="M1193,1035.5L1193,1024.6L1226.8,1024.6L1226.8,1035.5" fill="none" stroke="#333333" stroke-width="1.1"/>
<text x="1209.9" y="1019.2" font-size="13.5" text-anchor="middle" fill="#111" >**</text>
<rect x="836.4" y="963.9" width="141.2" height="442.3" fill="none" stroke="#666" stroke-width="1.3" />
<rect x="987.7" y="963.9" width="141.3" height="442.3" fill="none" stroke="#666" stroke-width="1.3" />
<rect x="1139.5" y="963.9" width="141.2" height="442.3" fill="none" stroke="#666" stroke-width="1.3" />
<line x1="856.1" y1="1406.2" x2="856.1" y2="1411.2" stroke="#333333" stroke-width="1.1" />
<text x="856.1" y="1430.2" font-size="20" text-anchor="middle" fill="#1a1a1a" >T</text>
<line x1="890.2" y1="1406.2" x2="890.2" y2="1411.2" stroke="#333333" stroke-width="1.1" />
<text x="890.2" y="1430.2" font-size="20" text-anchor="middle" fill="#1a1a1a" >A</text>
<line x1="924" y1="1406.2" x2="924" y2="1411.2" stroke="#333333" stroke-width="1.1" />
<text x="924" y="1430.2" font-size="20" text-anchor="middle" fill="#1a1a1a" >G</text>
<line x1="957.7" y1="1406.2" x2="957.7" y2="1411.2" stroke="#333333" stroke-width="1.1" />
<text x="957.7" y="1430.2" font-size="20" text-anchor="middle" fill="#1a1a1a" >C</text>
<line x1="1007.6" y1="1406.2" x2="1007.6" y2="1411.2" stroke="#333333" stroke-width="1.1" />
<text x="1007.6" y="1430.2" font-size="20" text-anchor="middle" fill="#1a1a1a" >T</text>
<line x1="1041.5" y1="1406.2" x2="1041.5" y2="1411.2" stroke="#333333" stroke-width="1.1" />
<text x="1041.5" y="1430.2" font-size="20" text-anchor="middle" fill="#1a1a1a" >A</text>
<line x1="1075.2" y1="1406.2" x2="1075.2" y2="1411.2" stroke="#333333" stroke-width="1.1" />
<text x="1075.2" y="1430.2" font-size="20" text-anchor="middle" fill="#1a1a1a" >G</text>
<line x1="1109.1" y1="1406.2" x2="1109.1" y2="1411.2" stroke="#333333" stroke-width="1.1" />
<text x="1109.1" y="1430.2" font-size="20" text-anchor="middle" fill="#1a1a1a" >C</text>
<line x1="1159.1" y1="1406.2" x2="1159.1" y2="1411.2" stroke="#333333" stroke-width="1.1" />
<text x="1159.1" y="1430.2" font-size="20" text-anchor="middle" fill="#1a1a1a" >T</text>
<line x1="1192.9" y1="1406.2" x2="1192.9" y2="1411.2" stroke="#333333" stroke-width="1.1" />
<text x="1192.9" y="1430.2" font-size="20" text-anchor="middle" fill="#1a1a1a" >A</text>
<line x1="1226.7" y1="1406.2" x2="1226.7" y2="1411.2" stroke="#333333" stroke-width="1.1" />
<text x="1226.7" y="1430.2" font-size="20" text-anchor="middle" fill="#1a1a1a" >G</text>
<line x1="1260.6" y1="1406.2" x2="1260.6" y2="1411.2" stroke="#333333" stroke-width="1.1" />
<text x="1260.6" y="1430.2" font-size="20" text-anchor="middle" fill="#1a1a1a" >C</text>
<text x="1058.2" y="1459" font-size="27.7" text-anchor="middle" fill="#111" >tRNA gene wobble position</text>
</g>
<g id="panel-h">
<text transform="matrix(1.0053 0 0 0.9732 1365.33 946.75)" font-size="45" fill="#000">h</text>
<text transform="translate(1385.5,1199.3) rotate(-90)" font-size="24" text-anchor="middle" fill="#000" >Ratio of T34 to C34 isoacceptors</text>
<text transform="translate(1410.6,1199.3) rotate(-90)" font-size="24" text-anchor="middle" fill="#000" >for each amino acid</text>
<line x1="1433.2" y1="1056.6" x2="1437.6" y2="1056.6" stroke="#333333" stroke-width="1.1" />
<text x="1429.6" y="1063.1" font-size="18.2" text-anchor="end" fill="#1a1a1a" >3</text>
<line x1="1433.2" y1="1148.8" x2="1437.6" y2="1148.8" stroke="#333333" stroke-width="1.1" />
<text x="1429.6" y="1155.3" font-size="18.2" text-anchor="end" fill="#1a1a1a" >2</text>
<line x1="1433.2" y1="1307.8" x2="1437.6" y2="1307.8" stroke="#333333" stroke-width="1.1" />
<text x="1429.6" y="1314.3" font-size="18.2" text-anchor="end" fill="#1a1a1a" >1</text>
<text x="1576.5" y="984.9" font-size="23.4" text-anchor="middle" fill="#1a1a1a" >input</text>
<line x1="1437.6" y1="1307.8" x2="1714.2" y2="1307.8" stroke="#bdbdbd" stroke-width="1.2" stroke-dasharray="7.4 4.3" stroke-dashoffset="2.9"/>
<text x="1861.5" y="984.9" font-size="23.4" text-anchor="middle" fill="#1a1a1a" >polysome</text>
<line x1="1723.2" y1="1307.8" x2="1999.5" y2="1307.8" stroke="#bdbdbd" stroke-width="1.2" stroke-dasharray="7.4 4.3" stroke-dashoffset="2.9"/>
<line x1="1477" y1="1282" x2="1477" y2="1300.4" stroke="#333333" stroke-width="1.6" />
<line x1="1477" y1="1317.9" x2="1477" y2="1331.2" stroke="#333333" stroke-width="1.6" />
<rect x="1452" y="1300.4" width="50" height="17.5" fill="#fff" stroke="#333333" stroke-width="1.6" />
<line x1="1452" y1="1307.8" x2="1502" y2="1307.8" stroke="#333333" stroke-width="3.1" />
<line x1="1542.8" y1="1279.1" x2="1542.8" y2="1293.7" stroke="#333333" stroke-width="1.6" />
<line x1="1542.8" y1="1315" x2="1542.8" y2="1338.6" stroke="#333333" stroke-width="1.6" />
<rect x="1517.8" y="1293.7" width="50" height="21.3" fill="#fff" stroke="#333333" stroke-width="1.6" />
<line x1="1517.8" y1="1307.8" x2="1567.8" y2="1307.8" stroke="#333333" stroke-width="3.1" />
<circle cx="1542.8" cy="1360.4" r="3.6" fill="#333333"/>
<line x1="1608.8" y1="1291.6" x2="1608.8" y2="1303.5" stroke="#333333" stroke-width="1.6" />
<line x1="1608.8" y1="1319.3" x2="1608.8" y2="1333.7" stroke="#333333" stroke-width="1.6" />
<rect x="1583.8" y="1303.5" width="50" height="15.8" fill="#fff" stroke="#333333" stroke-width="1.6" />
<line x1="1583.8" y1="1311.1" x2="1633.8" y2="1311.1" stroke="#333333" stroke-width="3.1" />
<line x1="1674.9" y1="1290.2" x2="1674.9" y2="1303.3" stroke="#333333" stroke-width="1.6" />
<line x1="1674.9" y1="1315" x2="1674.9" y2="1328.2" stroke="#333333" stroke-width="1.6" />
<rect x="1649.9" y="1303.3" width="50" height="11.7" fill="#fff" stroke="#333333" stroke-width="1.6" />
<line x1="1649.9" y1="1309.3" x2="1699.9" y2="1309.3" stroke="#333333" stroke-width="3.1" />
<circle cx="1674.9" cy="1273.6" r="3.6" fill="#333333"/>
<circle cx="1674.9" cy="1340.5" r="3.6" fill="#333333"/>
<line x1="1762.4" y1="1276.9" x2="1762.4" y2="1298.6" stroke="#333333" stroke-width="1.6" />
<line x1="1762.4" y1="1315.6" x2="1762.4" y2="1330.8" stroke="#333333" stroke-width="1.6" />
<rect x="1737.4" y="1298.6" width="50" height="17" fill="#fff" stroke="#333333" stroke-width="1.6" />
<line x1="1737.4" y1="1307" x2="1787.4" y2="1307" stroke="#333333" stroke-width="3.1" />
<line x1="1828.3" y1="1245.9" x2="1828.3" y2="1275.6" stroke="#333333" stroke-width="1.6" />
<line x1="1828.3" y1="1315" x2="1828.3" y2="1336.6" stroke="#333333" stroke-width="1.6" />
<rect x="1803.3" y="1275.6" width="50" height="39.4" fill="#fff" stroke="#333333" stroke-width="1.6" />
<line x1="1803.3" y1="1297.2" x2="1853.3" y2="1297.2" stroke="#333333" stroke-width="3.1" />
<circle cx="1828.3" cy="1211.8" r="3.6" fill="#333333"/>
<circle cx="1828.3" cy="1386" r="3.6" fill="#333333"/>
<line x1="1894.3" y1="1258" x2="1894.3" y2="1283" stroke="#333333" stroke-width="1.6" />
<line x1="1894.3" y1="1312.1" x2="1894.3" y2="1326.3" stroke="#333333" stroke-width="1.6" />
<rect x="1869.3" y="1283" width="50" height="29.1" fill="#fff" stroke="#333333" stroke-width="1.6" />
<line x1="1869.3" y1="1299.6" x2="1919.3" y2="1299.6" stroke="#333333" stroke-width="3.1" />
<line x1="1960.4" y1="1214.1" x2="1960.4" y2="1257" stroke="#333333" stroke-width="1.6" />
<line x1="1960.4" y1="1300.4" x2="1960.4" y2="1361.8" stroke="#333333" stroke-width="1.6" />
<rect x="1935.4" y="1257" width="50" height="43.4" fill="#fff" stroke="#333333" stroke-width="1.6" />
<line x1="1935.4" y1="1276.6" x2="1985.4" y2="1276.6" stroke="#333333" stroke-width="3.1" />
<circle cx="1960.4" cy="1096.6" r="3.6" fill="#333333"/>
<circle cx="1960.4" cy="1127.6" r="3.6" fill="#333333"/>
<circle cx="1960.4" cy="1129.9" r="3.6" fill="#333333"/>
<circle cx="1960.4" cy="1369" r="3.6" fill="#333333"/>
<path d="M1476.6,1021.2L1476.6,1012.8L1674.8,1012.8L1674.8,1021.2" fill="none" stroke="#333333" stroke-width="1.1"/>
<text x="1576" y="1008.4" font-size="16.5" text-anchor="middle" fill="#111" >ns</text>
<path d="M1476.6,1056.4L1476.6,1047.4L1609,1047.4L1609,1056.4" fill="none" stroke="#333333" stroke-width="1.1"/>
<text x="1543.2" y="1043" font-size="16.5" text-anchor="middle" fill="#111" >ns</text>
<path d="M1476.6,1090.6L1476.6,1082L1543.2,1082L1543.2,1090.6" fill="none" stroke="#333333" stroke-width="1.1"/>
<text x="1510.1" y="1077.6" font-size="16.5" text-anchor="middle" fill="#111" >ns</text>
<path d="M1762.5,1021.5L1762.5,1013.2L1960.3,1013.2L1960.3,1021.5" fill="none" stroke="#333333" stroke-width="1.1"/>
<text x="1861.3" y="1007.4" font-size="16.4" text-anchor="middle" fill="#111" >***</text>
<path d="M1762.5,1056.7L1762.5,1047.4L1894.2,1047.4L1894.2,1056.7" fill="none" stroke="#333333" stroke-width="1.1"/>
<text x="1828.2" y="1041.6" font-size="16.4" text-anchor="middle" fill="#111" >*</text>
<path d="M1762.5,1090.9L1762.5,1082L1828.5,1082L1828.5,1090.9" fill="none" stroke="#333333" stroke-width="1.1"/>
<text x="1795.2" y="1076.6" font-size="16.4" text-anchor="middle" fill="#111" >*</text>
<rect x="1437.6" y="994.4" width="276.6" height="409.9" fill="none" stroke="#666" stroke-width="1.3" />
<rect x="1723.2" y="994.4" width="276.3" height="409.9" fill="none" stroke="#666" stroke-width="1.3" />
<line x1="1477" y1="1404.3" x2="1477" y2="1408.8" stroke="#333333" stroke-width="1.1" />
<text x="1477" y="1424.8" font-size="17.7" text-anchor="middle" fill="#1a1a1a" >control</text>
<line x1="1542.8" y1="1404.3" x2="1542.8" y2="1408.8" stroke="#333333" stroke-width="1.1" />
<text x="1542.8" y="1424.8" font-size="17.7" text-anchor="middle" fill="#1a1a1a" >heat</text>
<line x1="1608.8" y1="1404.3" x2="1608.8" y2="1408.8" stroke="#333333" stroke-width="1.1" />
<text x="1608.8" y="1424.8" font-size="17.7" text-anchor="middle" fill="#1a1a1a" >H2O2</text>
<line x1="1674.9" y1="1404.3" x2="1674.9" y2="1408.8" stroke="#333333" stroke-width="1.1" />
<text x="1674.9" y="1424.8" font-size="17.7" text-anchor="middle" fill="#1a1a1a" >AsO2</text>
<line x1="1762.4" y1="1404.3" x2="1762.4" y2="1408.8" stroke="#333333" stroke-width="1.1" />
<text x="1762.4" y="1424.8" font-size="17.7" text-anchor="middle" fill="#1a1a1a" >control</text>
<line x1="1828.3" y1="1404.3" x2="1828.3" y2="1408.8" stroke="#333333" stroke-width="1.1" />
<text x="1828.3" y="1424.8" font-size="17.7" text-anchor="middle" fill="#1a1a1a" >heat</text>
<line x1="1894.3" y1="1404.3" x2="1894.3" y2="1408.8" stroke="#333333" stroke-width="1.1" />
<text x="1894.3" y="1424.8" font-size="17.7" text-anchor="middle" fill="#1a1a1a" >H2O2</text>
<line x1="1960.4" y1="1404.3" x2="1960.4" y2="1408.8" stroke="#333333" stroke-width="1.1" />
<text x="1960.4" y="1424.8" font-size="17.7" text-anchor="middle" fill="#1a1a1a" >AsO2</text>
</g>
</svg>
</body>
</html>
